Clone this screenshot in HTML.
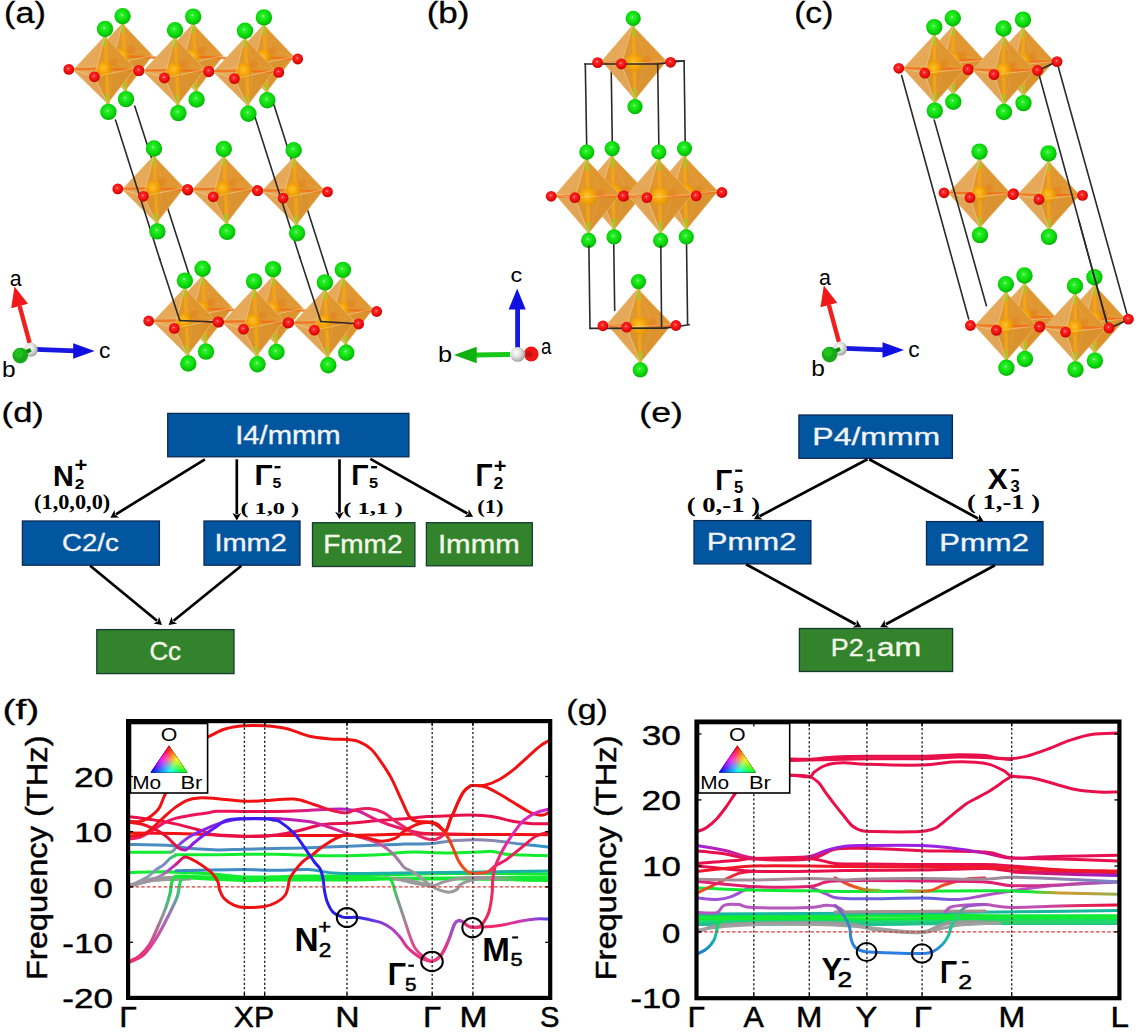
<!DOCTYPE html><html><head><meta charset="utf-8"><style>html,body{margin:0;padding:0;background:#fff;}svg{display:block}</style></head><body>
<svg width="1141" height="1033" viewBox="0 0 1141 1033">
<defs><radialGradient id="gball" cx="0.45" cy="0.42" r="0.65"><stop offset="0" stop-color="#c8ffc8"/><stop offset="0.12" stop-color="#30f030"/><stop offset="0.55" stop-color="#0cdc0c"/><stop offset="1" stop-color="#05a505"/></radialGradient><radialGradient id="rball" cx="0.45" cy="0.42" r="0.65"><stop offset="0" stop-color="#ffd8d8"/><stop offset="0.15" stop-color="#ff3030"/><stop offset="0.6" stop-color="#ee0c0c"/><stop offset="1" stop-color="#b00000"/></radialGradient><radialGradient id="oball" cx="0.45" cy="0.45" r="0.6"><stop offset="0" stop-color="#ffc830"/><stop offset="0.5" stop-color="#f8a808"/><stop offset="1" stop-color="#e09000"/></radialGradient><radialGradient id="wball" cx="0.4" cy="0.38" r="0.7"><stop offset="0" stop-color="#ffffff"/><stop offset="0.5" stop-color="#dcdcdc"/><stop offset="1" stop-color="#909090"/></radialGradient><linearGradient id="g1" gradientUnits="userSpaceOnUse" x1="176.0" y1="0.0" x2="548.0" y2="0.0"><stop offset="0.000" stop-color="#3d8ac4"/><stop offset="0.333" stop-color="#3d8ac4"/><stop offset="0.441" stop-color="#18b0a8"/><stop offset="1.000" stop-color="#18b0a8"/></linearGradient><linearGradient id="g2" gradientUnits="userSpaceOnUse" x1="405.0" y1="0.0" x2="548.0" y2="0.0"><stop offset="0.000" stop-color="#9a9a9a"/><stop offset="0.524" stop-color="#9a9a9a"/><stop offset="0.804" stop-color="#12ec30"/><stop offset="1.000" stop-color="#12ec30"/></linearGradient><linearGradient id="g3" gradientUnits="userSpaceOnUse" x1="130.0" y1="0.0" x2="548.0" y2="0.0"><stop offset="0.000" stop-color="#4a8cc0"/><stop offset="0.694" stop-color="#4a8cc0"/><stop offset="0.778" stop-color="#8a88b0"/><stop offset="0.873" stop-color="#8a88b0"/><stop offset="0.957" stop-color="#3a90c4"/><stop offset="1.000" stop-color="#2a98c8"/></linearGradient><linearGradient id="g4" gradientUnits="userSpaceOnUse" x1="130.0" y1="0.0" x2="548.0" y2="0.0"><stop offset="0.000" stop-color="#9a9a9a"/><stop offset="0.048" stop-color="#8a9ab0"/><stop offset="0.084" stop-color="#7a8ad0"/><stop offset="0.115" stop-color="#12ec30"/><stop offset="1.000" stop-color="#12ec30"/></linearGradient><linearGradient id="g5" gradientUnits="userSpaceOnUse" x1="130.0" y1="0.0" x2="473.0" y2="0.0"><stop offset="0.000" stop-color="#f0186a"/><stop offset="0.437" stop-color="#e8104a"/><stop offset="0.554" stop-color="#d020a0"/><stop offset="0.641" stop-color="#b020d0"/><stop offset="0.700" stop-color="#e02080"/><stop offset="1.000" stop-color="#f01212"/></linearGradient><linearGradient id="g6" gradientUnits="userSpaceOnUse" x1="130.0" y1="0.0" x2="548.0" y2="0.0"><stop offset="0.000" stop-color="#f01212"/><stop offset="0.407" stop-color="#f01212"/><stop offset="0.502" stop-color="#e81850"/><stop offset="0.646" stop-color="#e8286a"/><stop offset="0.742" stop-color="#e8286a"/><stop offset="0.766" stop-color="#f01212"/><stop offset="1.000" stop-color="#f01212"/></linearGradient><linearGradient id="g7" gradientUnits="userSpaceOnUse" x1="130.0" y1="0.0" x2="548.0" y2="0.0"><stop offset="0.000" stop-color="#12ec30"/><stop offset="0.086" stop-color="#12ec30"/><stop offset="0.105" stop-color="#8090b0"/><stop offset="0.124" stop-color="#8a40e0"/><stop offset="0.167" stop-color="#8a20e8"/><stop offset="0.311" stop-color="#8a20e0"/><stop offset="0.407" stop-color="#c020b0"/><stop offset="0.526" stop-color="#e02a80"/><stop offset="0.610" stop-color="#c060a0"/><stop offset="0.646" stop-color="#a080a8"/><stop offset="0.682" stop-color="#9a9a9a"/><stop offset="0.873" stop-color="#9a9a9a"/><stop offset="0.933" stop-color="#12ec30"/><stop offset="1.000" stop-color="#12ec30"/></linearGradient><linearGradient id="g8" gradientUnits="userSpaceOnUse" x1="130.0" y1="0.0" x2="548.0" y2="0.0"><stop offset="0.000" stop-color="#9a9a9a"/><stop offset="0.072" stop-color="#a08aa8"/><stop offset="0.100" stop-color="#c030c0"/><stop offset="0.129" stop-color="#e01050"/><stop offset="0.148" stop-color="#f01212"/><stop offset="0.742" stop-color="#f01212"/><stop offset="0.761" stop-color="#f03a18"/><stop offset="0.813" stop-color="#f05418"/><stop offset="0.856" stop-color="#f04030"/><stop offset="0.885" stop-color="#e8206a"/><stop offset="1.000" stop-color="#f01830"/></linearGradient><linearGradient id="g9" gradientUnits="userSpaceOnUse" x1="130.0" y1="0.0" x2="548.0" y2="0.0"><stop offset="0.000" stop-color="#f01212"/><stop offset="0.110" stop-color="#e81040"/><stop offset="0.134" stop-color="#a020d0"/><stop offset="0.167" stop-color="#7a20f0"/><stop offset="0.254" stop-color="#3a1ef0"/><stop offset="0.478" stop-color="#2a1ee8"/><stop offset="0.538" stop-color="#2a1ee8"/><stop offset="0.586" stop-color="#6a3ae0"/><stop offset="0.634" stop-color="#b040c0"/><stop offset="0.670" stop-color="#e83080"/><stop offset="0.742" stop-color="#f02a78"/><stop offset="0.770" stop-color="#a048c8"/><stop offset="0.794" stop-color="#e02a7a"/><stop offset="0.833" stop-color="#f0205a"/><stop offset="0.866" stop-color="#f02858"/><stop offset="0.897" stop-color="#e828a0"/><stop offset="0.957" stop-color="#d828c0"/><stop offset="1.000" stop-color="#c828d0"/></linearGradient><linearGradient id="g10" gradientUnits="userSpaceOnUse" x1="350.0" y1="0.0" x2="548.0" y2="0.0"><stop offset="0.000" stop-color="#12ec30"/><stop offset="0.212" stop-color="#12ec30"/><stop offset="0.242" stop-color="#70a080"/><stop offset="0.273" stop-color="#a08898"/><stop offset="0.313" stop-color="#e04a90"/><stop offset="0.480" stop-color="#f0307a"/><stop offset="0.515" stop-color="#a050c8"/><stop offset="0.556" stop-color="#9a50d0"/><stop offset="0.586" stop-color="#e83070"/><stop offset="0.758" stop-color="#f02868"/><stop offset="0.884" stop-color="#c040c0"/><stop offset="1.000" stop-color="#5a40e8"/></linearGradient><linearGradient id="g11" gradientUnits="userSpaceOnUse" x1="0.0" y1="876.0" x2="0.0" y2="962.0"><stop offset="0.000" stop-color="#12ec30"/><stop offset="0.186" stop-color="#20d060"/><stop offset="0.453" stop-color="#909898"/><stop offset="0.744" stop-color="#d04a8a"/><stop offset="1.000" stop-color="#f02a70"/></linearGradient><linearGradient id="g12" gradientUnits="userSpaceOnUse" x1="0.0" y1="877.0" x2="0.0" y2="962.0"><stop offset="0.000" stop-color="#12ec30"/><stop offset="0.176" stop-color="#40c080"/><stop offset="0.447" stop-color="#a070c0"/><stop offset="0.741" stop-color="#d04aa0"/><stop offset="1.000" stop-color="#f02a70"/></linearGradient><linearGradient id="tri13r" gradientUnits="userSpaceOnUse" x1="169.00" y1="745.40" x2="169.00" y2="772.40"><stop offset="0" stop-color="#ff0000"/><stop offset="0.5" stop-color="#ff0000"/><stop offset="1" stop-color="#000"/></linearGradient><linearGradient id="tri13b" gradientUnits="userSpaceOnUse" x1="150.60" y1="772.40" x2="175.73" y2="755.27"><stop offset="0" stop-color="#0000ff"/><stop offset="0.5" stop-color="#0000ff"/><stop offset="1" stop-color="#000"/></linearGradient><linearGradient id="tri13g" gradientUnits="userSpaceOnUse" x1="187.40" y1="772.40" x2="162.27" y2="755.27"><stop offset="0" stop-color="#00ff00"/><stop offset="0.5" stop-color="#00ff00"/><stop offset="1" stop-color="#000"/></linearGradient><linearGradient id="g14" gradientUnits="userSpaceOnUse" x1="698.0" y1="0.0" x2="1117.0" y2="0.0"><stop offset="0.000" stop-color="#9a9a9a"/><stop offset="0.661" stop-color="#9a9a9a"/><stop offset="0.721" stop-color="#30d060"/><stop offset="1.000" stop-color="#20d870"/></linearGradient><linearGradient id="g15" gradientUnits="userSpaceOnUse" x1="945.0" y1="0.0" x2="1117.0" y2="0.0"><stop offset="0.000" stop-color="#b458c0"/><stop offset="0.552" stop-color="#c050b0"/><stop offset="0.785" stop-color="#e02a60"/><stop offset="1.000" stop-color="#e81040"/></linearGradient><linearGradient id="g16" gradientUnits="userSpaceOnUse" x1="809.0" y1="0.0" x2="1117.0" y2="0.0"><stop offset="0.000" stop-color="#c040c0"/><stop offset="0.133" stop-color="#7060e0"/><stop offset="0.393" stop-color="#6060e0"/><stop offset="0.555" stop-color="#b050c8"/><stop offset="1.000" stop-color="#c060c0"/></linearGradient><linearGradient id="g17" gradientUnits="userSpaceOnUse" x1="698.0" y1="0.0" x2="1117.0" y2="0.0"><stop offset="0.000" stop-color="#10ea34"/><stop offset="0.792" stop-color="#10ea34"/><stop offset="0.864" stop-color="#d09a30"/><stop offset="0.936" stop-color="#b8a040"/><stop offset="1.000" stop-color="#98b048"/></linearGradient><linearGradient id="g18" gradientUnits="userSpaceOnUse" x1="835.0" y1="0.0" x2="880.0" y2="0.0"><stop offset="0.000" stop-color="#e84040"/><stop offset="0.444" stop-color="#f05418"/><stop offset="1.000" stop-color="#70d030"/></linearGradient><linearGradient id="g19" gradientUnits="userSpaceOnUse" x1="905.0" y1="0.0" x2="985.0" y2="0.0"><stop offset="0.000" stop-color="#60d030"/><stop offset="0.312" stop-color="#f05418"/><stop offset="1.000" stop-color="#e83050"/></linearGradient><linearGradient id="g20" gradientUnits="userSpaceOnUse" x1="698.0" y1="0.0" x2="753.0" y2="0.0"><stop offset="0.000" stop-color="#f05418"/><stop offset="1.000" stop-color="#e8104a"/></linearGradient><linearGradient id="g21" gradientUnits="userSpaceOnUse" x1="698.0" y1="0.0" x2="1117.0" y2="0.0"><stop offset="0.000" stop-color="#e02070"/><stop offset="0.721" stop-color="#e02070"/><stop offset="1.000" stop-color="#a060c0"/></linearGradient><linearGradient id="g22" gradientUnits="userSpaceOnUse" x1="698.0" y1="0.0" x2="1117.0" y2="0.0"><stop offset="0.000" stop-color="#a88c98"/><stop offset="0.721" stop-color="#a08898"/><stop offset="1.000" stop-color="#7a80c8"/></linearGradient><linearGradient id="g23" gradientUnits="userSpaceOnUse" x1="698.0" y1="0.0" x2="1117.0" y2="0.0"><stop offset="0.000" stop-color="#a020e0"/><stop offset="0.100" stop-color="#d02090"/><stop offset="0.148" stop-color="#e8104a"/><stop offset="0.243" stop-color="#e8104a"/><stop offset="0.303" stop-color="#a020e0"/><stop offset="0.625" stop-color="#9a20e0"/><stop offset="0.721" stop-color="#e01070"/><stop offset="1.000" stop-color="#e8104a"/></linearGradient><linearGradient id="g24" gradientUnits="userSpaceOnUse" x1="1011.0" y1="0.0" x2="1117.0" y2="0.0"><stop offset="0.000" stop-color="#e8104a"/><stop offset="1.000" stop-color="#9020d0"/></linearGradient><linearGradient id="g25" gradientUnits="userSpaceOnUse" x1="0.0" y1="919.0" x2="0.0" y2="953.0"><stop offset="0.000" stop-color="#10ea34"/><stop offset="0.471" stop-color="#18c0a0"/><stop offset="1.000" stop-color="#1a80d0"/></linearGradient><linearGradient id="g26" gradientUnits="userSpaceOnUse" x1="835.0" y1="0.0" x2="985.0" y2="0.0"><stop offset="0.000" stop-color="#a050c8"/><stop offset="0.073" stop-color="#2a90c0"/><stop offset="0.133" stop-color="#2a80e0"/><stop offset="0.667" stop-color="#2a80e0"/><stop offset="0.753" stop-color="#18c0a0"/><stop offset="0.813" stop-color="#30d070"/><stop offset="0.887" stop-color="#a050c8"/><stop offset="1.000" stop-color="#a050c8"/></linearGradient><linearGradient id="tri27r" gradientUnits="userSpaceOnUse" x1="737.40" y1="745.40" x2="737.40" y2="772.40"><stop offset="0" stop-color="#ff0000"/><stop offset="0.5" stop-color="#ff0000"/><stop offset="1" stop-color="#000"/></linearGradient><linearGradient id="tri27b" gradientUnits="userSpaceOnUse" x1="719.00" y1="772.40" x2="744.13" y2="755.27"><stop offset="0" stop-color="#0000ff"/><stop offset="0.5" stop-color="#0000ff"/><stop offset="1" stop-color="#000"/></linearGradient><linearGradient id="tri27g" gradientUnits="userSpaceOnUse" x1="755.80" y1="772.40" x2="730.67" y2="755.27"><stop offset="0" stop-color="#00ff00"/><stop offset="0.5" stop-color="#00ff00"/><stop offset="1" stop-color="#000"/></linearGradient></defs>
<rect width="1141" height="1033" fill="#fff"/>
<g><polygon points="122.3,23.6 152.5,55.5 125.1,90.8 90.9,57.2" fill="#e8aa58" opacity="0.95"/><polyline points="90.9,57.2 131.7,49.5 152.5,55.5" fill="none" stroke="#f4cc90" stroke-width="0.8"/><line x1="122.3" y1="23.6" x2="131.7" y2="49.5" stroke="#f4cc90" stroke-width="0.8"/><line x1="125.1" y1="90.8" x2="131.7" y2="49.5" stroke="#f4cc90" stroke-width="0.8"/><line x1="121.7" y1="56.0" x2="131.4" y2="49.8" stroke="#f08030" stroke-width="2.2" opacity="0.8"/><circle cx="131.4" cy="49.8" r="4.2" fill="#f07a30" opacity="0.7"/><polygon points="122.3,23.6 90.9,57.2 112.0,64.0" fill="#e2a654" opacity="0.55"/><polygon points="122.3,23.6 112.0,64.0 152.5,55.5" fill="#dc8c1a" opacity="0.68"/><polygon points="125.1,90.8 90.9,57.2 112.0,64.0" fill="#dc9e4c" opacity="0.55"/><polygon points="125.1,90.8 112.0,64.0 152.5,55.5" fill="#d48618" opacity="0.68"/><line x1="121.7" y1="56.0" x2="86.4" y2="56.6" stroke="#f2701a" stroke-width="2.4" opacity="0.85"/><line x1="121.7" y1="56.0" x2="156.4" y2="57.8" stroke="#f2701a" stroke-width="2.4" opacity="0.85"/><line x1="121.7" y1="56.0" x2="112.0" y2="64.0" stroke="#f2701a" stroke-width="2.4" opacity="0.85"/><line x1="122.6" y1="16.2" x2="126.0" y2="99.1" stroke="#f6a612" stroke-width="3.4" opacity="0.85"/><line x1="122.6" y1="16.2" x2="122.2" y2="32.9" stroke="#9ccc28" stroke-width="3.2" opacity="0.85"/><line x1="126.0" y1="99.1" x2="124.2" y2="81.0" stroke="#9ccc28" stroke-width="3.2" opacity="0.85"/><circle cx="121.7" cy="56.0" r="7.5" fill="url(#oball)" opacity="0.9"/><polyline points="122.3,23.6 112.0,64.0 125.1,90.8" fill="none" stroke="#f6dcaa" stroke-width="0.9" opacity="0.55"/><polyline points="90.9,57.2 112.0,64.0 152.5,55.5" fill="none" stroke="#f6dcaa" stroke-width="0.9" opacity="0.55"/><polygon points="122.3,23.6 152.5,55.5 125.1,90.8 90.9,57.2" fill="none" stroke="#e8b468" stroke-width="0.8"/></g>
<circle cx="122.6" cy="16.2" r="8.2" fill="url(#gball)"/>
<circle cx="126.0" cy="99.1" r="8.2" fill="url(#gball)"/>
<g><polygon points="192.9,24.0 223.1,55.9 195.7,91.2 161.5,57.6" fill="#e8aa58" opacity="0.95"/><polyline points="161.5,57.6 202.3,49.9 223.1,55.9" fill="none" stroke="#f4cc90" stroke-width="0.8"/><line x1="192.9" y1="24.0" x2="202.3" y2="49.9" stroke="#f4cc90" stroke-width="0.8"/><line x1="195.7" y1="91.2" x2="202.3" y2="49.9" stroke="#f4cc90" stroke-width="0.8"/><line x1="192.3" y1="56.4" x2="202.0" y2="50.2" stroke="#f08030" stroke-width="2.2" opacity="0.8"/><circle cx="202.0" cy="50.2" r="4.2" fill="#f07a30" opacity="0.7"/><polygon points="192.9,24.0 161.5,57.6 182.6,64.4" fill="#e2a654" opacity="0.55"/><polygon points="192.9,24.0 182.6,64.4 223.1,55.9" fill="#dc8c1a" opacity="0.68"/><polygon points="195.7,91.2 161.5,57.6 182.6,64.4" fill="#dc9e4c" opacity="0.55"/><polygon points="195.7,91.2 182.6,64.4 223.1,55.9" fill="#d48618" opacity="0.68"/><line x1="192.3" y1="56.4" x2="157.0" y2="57.0" stroke="#f2701a" stroke-width="2.4" opacity="0.85"/><line x1="192.3" y1="56.4" x2="227.0" y2="58.2" stroke="#f2701a" stroke-width="2.4" opacity="0.85"/><line x1="192.3" y1="56.4" x2="182.6" y2="64.4" stroke="#f2701a" stroke-width="2.4" opacity="0.85"/><line x1="193.2" y1="16.6" x2="196.6" y2="99.5" stroke="#f6a612" stroke-width="3.4" opacity="0.85"/><line x1="193.2" y1="16.6" x2="192.8" y2="33.3" stroke="#9ccc28" stroke-width="3.2" opacity="0.85"/><line x1="196.6" y1="99.5" x2="194.8" y2="81.4" stroke="#9ccc28" stroke-width="3.2" opacity="0.85"/><circle cx="192.3" cy="56.4" r="7.5" fill="url(#oball)" opacity="0.9"/><polyline points="192.9,24.0 182.6,64.4 195.7,91.2" fill="none" stroke="#f6dcaa" stroke-width="0.9" opacity="0.55"/><polyline points="161.5,57.6 182.6,64.4 223.1,55.9" fill="none" stroke="#f6dcaa" stroke-width="0.9" opacity="0.55"/><polygon points="192.9,24.0 223.1,55.9 195.7,91.2 161.5,57.6" fill="none" stroke="#e8b468" stroke-width="0.8"/></g>
<circle cx="193.2" cy="16.6" r="8.2" fill="url(#gball)"/>
<circle cx="196.6" cy="99.5" r="8.2" fill="url(#gball)"/>
<g><polygon points="263.6,24.8 293.8,56.7 266.4,92.0 232.2,58.4" fill="#e8aa58" opacity="0.95"/><polyline points="232.2,58.4 273.0,50.7 293.8,56.7" fill="none" stroke="#f4cc90" stroke-width="0.8"/><line x1="263.6" y1="24.8" x2="273.0" y2="50.7" stroke="#f4cc90" stroke-width="0.8"/><line x1="266.4" y1="92.0" x2="273.0" y2="50.7" stroke="#f4cc90" stroke-width="0.8"/><line x1="263.0" y1="57.2" x2="272.7" y2="51.0" stroke="#f08030" stroke-width="2.2" opacity="0.8"/><circle cx="272.7" cy="51.0" r="4.2" fill="#f07a30" opacity="0.7"/><polygon points="263.6,24.8 232.2,58.4 253.3,65.2" fill="#e2a654" opacity="0.55"/><polygon points="263.6,24.8 253.3,65.2 293.8,56.7" fill="#dc8c1a" opacity="0.68"/><polygon points="266.4,92.0 232.2,58.4 253.3,65.2" fill="#dc9e4c" opacity="0.55"/><polygon points="266.4,92.0 253.3,65.2 293.8,56.7" fill="#d48618" opacity="0.68"/><line x1="263.0" y1="57.2" x2="227.7" y2="57.8" stroke="#f2701a" stroke-width="2.4" opacity="0.85"/><line x1="263.0" y1="57.2" x2="297.7" y2="59.0" stroke="#f2701a" stroke-width="2.4" opacity="0.85"/><line x1="263.0" y1="57.2" x2="253.3" y2="65.2" stroke="#f2701a" stroke-width="2.4" opacity="0.85"/><line x1="263.9" y1="17.4" x2="267.3" y2="100.3" stroke="#f6a612" stroke-width="3.4" opacity="0.85"/><line x1="263.9" y1="17.4" x2="263.5" y2="34.1" stroke="#9ccc28" stroke-width="3.2" opacity="0.85"/><line x1="267.3" y1="100.3" x2="265.5" y2="82.2" stroke="#9ccc28" stroke-width="3.2" opacity="0.85"/><circle cx="263.0" cy="57.2" r="7.5" fill="url(#oball)" opacity="0.9"/><polyline points="263.6,24.8 253.3,65.2 266.4,92.0" fill="none" stroke="#f6dcaa" stroke-width="0.9" opacity="0.55"/><polyline points="232.2,58.4 253.3,65.2 293.8,56.7" fill="none" stroke="#f6dcaa" stroke-width="0.9" opacity="0.55"/><polygon points="263.6,24.8 293.8,56.7 266.4,92.0 232.2,58.4" fill="none" stroke="#e8b468" stroke-width="0.8"/></g>
<circle cx="263.9" cy="17.4" r="8.2" fill="url(#gball)"/>
<circle cx="267.3" cy="100.3" r="8.2" fill="url(#gball)"/>
<circle cx="297.7" cy="59.0" r="5.4" fill="url(#rball)"/>
<g><polygon points="104.7,36.4 134.9,68.3 107.5,103.6 73.3,70.0" fill="#e8aa58" opacity="0.95"/><polyline points="73.3,70.0 114.1,62.3 134.9,68.3" fill="none" stroke="#f4cc90" stroke-width="0.8"/><line x1="104.7" y1="36.4" x2="114.1" y2="62.3" stroke="#f4cc90" stroke-width="0.8"/><line x1="107.5" y1="103.6" x2="114.1" y2="62.3" stroke="#f4cc90" stroke-width="0.8"/><line x1="104.1" y1="68.8" x2="113.8" y2="62.6" stroke="#f08030" stroke-width="2.2" opacity="0.8"/><circle cx="113.8" cy="62.6" r="4.2" fill="#f07a30" opacity="0.7"/><polygon points="104.7,36.4 73.3,70.0 94.4,76.8" fill="#e2a654" opacity="0.55"/><polygon points="104.7,36.4 94.4,76.8 134.9,68.3" fill="#dc8c1a" opacity="0.68"/><polygon points="107.5,103.6 73.3,70.0 94.4,76.8" fill="#dc9e4c" opacity="0.55"/><polygon points="107.5,103.6 94.4,76.8 134.9,68.3" fill="#d48618" opacity="0.68"/><line x1="104.1" y1="68.8" x2="68.8" y2="69.4" stroke="#f2701a" stroke-width="2.4" opacity="0.85"/><line x1="104.1" y1="68.8" x2="138.8" y2="70.6" stroke="#f2701a" stroke-width="2.4" opacity="0.85"/><line x1="104.1" y1="68.8" x2="94.4" y2="76.8" stroke="#f2701a" stroke-width="2.4" opacity="0.85"/><line x1="105.0" y1="29.0" x2="108.4" y2="111.9" stroke="#f6a612" stroke-width="3.4" opacity="0.85"/><line x1="105.0" y1="29.0" x2="104.6" y2="45.7" stroke="#9ccc28" stroke-width="3.2" opacity="0.85"/><line x1="108.4" y1="111.9" x2="106.6" y2="93.8" stroke="#9ccc28" stroke-width="3.2" opacity="0.85"/><circle cx="104.1" cy="68.8" r="7.5" fill="url(#oball)" opacity="0.9"/><polyline points="104.7,36.4 94.4,76.8 107.5,103.6" fill="none" stroke="#f6dcaa" stroke-width="0.9" opacity="0.55"/><polyline points="73.3,70.0 94.4,76.8 134.9,68.3" fill="none" stroke="#f6dcaa" stroke-width="0.9" opacity="0.55"/><polygon points="104.7,36.4 134.9,68.3 107.5,103.6 73.3,70.0" fill="none" stroke="#e8b468" stroke-width="0.8"/></g>
<circle cx="105.0" cy="29.0" r="8.2" fill="url(#gball)"/>
<circle cx="108.4" cy="111.9" r="8.2" fill="url(#gball)"/>
<circle cx="68.8" cy="69.4" r="5.4" fill="url(#rball)"/>
<circle cx="94.4" cy="76.8" r="5.4" fill="url(#rball)"/>
<circle cx="138.8" cy="70.6" r="5.4" fill="url(#rball)"/>
<g><polygon points="174.7,37.6 204.9,69.5 177.5,104.8 143.3,71.2" fill="#e8aa58" opacity="0.95"/><polyline points="143.3,71.2 184.1,63.5 204.9,69.5" fill="none" stroke="#f4cc90" stroke-width="0.8"/><line x1="174.7" y1="37.6" x2="184.1" y2="63.5" stroke="#f4cc90" stroke-width="0.8"/><line x1="177.5" y1="104.8" x2="184.1" y2="63.5" stroke="#f4cc90" stroke-width="0.8"/><line x1="174.1" y1="70.0" x2="183.8" y2="63.8" stroke="#f08030" stroke-width="2.2" opacity="0.8"/><circle cx="183.8" cy="63.8" r="4.2" fill="#f07a30" opacity="0.7"/><polygon points="174.7,37.6 143.3,71.2 164.4,78.0" fill="#e2a654" opacity="0.55"/><polygon points="174.7,37.6 164.4,78.0 204.9,69.5" fill="#dc8c1a" opacity="0.68"/><polygon points="177.5,104.8 143.3,71.2 164.4,78.0" fill="#dc9e4c" opacity="0.55"/><polygon points="177.5,104.8 164.4,78.0 204.9,69.5" fill="#d48618" opacity="0.68"/><line x1="174.1" y1="70.0" x2="138.8" y2="70.6" stroke="#f2701a" stroke-width="2.4" opacity="0.85"/><line x1="174.1" y1="70.0" x2="208.8" y2="71.8" stroke="#f2701a" stroke-width="2.4" opacity="0.85"/><line x1="174.1" y1="70.0" x2="164.4" y2="78.0" stroke="#f2701a" stroke-width="2.4" opacity="0.85"/><line x1="175.0" y1="30.2" x2="178.4" y2="113.1" stroke="#f6a612" stroke-width="3.4" opacity="0.85"/><line x1="175.0" y1="30.2" x2="174.6" y2="46.9" stroke="#9ccc28" stroke-width="3.2" opacity="0.85"/><line x1="178.4" y1="113.1" x2="176.6" y2="95.0" stroke="#9ccc28" stroke-width="3.2" opacity="0.85"/><circle cx="174.1" cy="70.0" r="7.5" fill="url(#oball)" opacity="0.9"/><polyline points="174.7,37.6 164.4,78.0 177.5,104.8" fill="none" stroke="#f6dcaa" stroke-width="0.9" opacity="0.55"/><polyline points="143.3,71.2 164.4,78.0 204.9,69.5" fill="none" stroke="#f6dcaa" stroke-width="0.9" opacity="0.55"/><polygon points="174.7,37.6 204.9,69.5 177.5,104.8 143.3,71.2" fill="none" stroke="#e8b468" stroke-width="0.8"/></g>
<circle cx="175.0" cy="30.2" r="8.2" fill="url(#gball)"/>
<circle cx="178.4" cy="113.1" r="8.2" fill="url(#gball)"/>
<circle cx="138.8" cy="70.6" r="5.4" fill="url(#rball)"/>
<circle cx="164.4" cy="78.0" r="5.4" fill="url(#rball)"/>
<circle cx="208.8" cy="71.8" r="5.4" fill="url(#rball)"/>
<g><polygon points="244.7,38.2 274.9,70.1 247.5,105.4 213.3,71.8" fill="#e8aa58" opacity="0.95"/><polyline points="213.3,71.8 254.1,64.1 274.9,70.1" fill="none" stroke="#f4cc90" stroke-width="0.8"/><line x1="244.7" y1="38.2" x2="254.1" y2="64.1" stroke="#f4cc90" stroke-width="0.8"/><line x1="247.5" y1="105.4" x2="254.1" y2="64.1" stroke="#f4cc90" stroke-width="0.8"/><line x1="244.1" y1="70.6" x2="253.8" y2="64.4" stroke="#f08030" stroke-width="2.2" opacity="0.8"/><circle cx="253.8" cy="64.4" r="4.2" fill="#f07a30" opacity="0.7"/><polygon points="244.7,38.2 213.3,71.8 234.4,78.6" fill="#e2a654" opacity="0.55"/><polygon points="244.7,38.2 234.4,78.6 274.9,70.1" fill="#dc8c1a" opacity="0.68"/><polygon points="247.5,105.4 213.3,71.8 234.4,78.6" fill="#dc9e4c" opacity="0.55"/><polygon points="247.5,105.4 234.4,78.6 274.9,70.1" fill="#d48618" opacity="0.68"/><line x1="244.1" y1="70.6" x2="208.8" y2="71.2" stroke="#f2701a" stroke-width="2.4" opacity="0.85"/><line x1="244.1" y1="70.6" x2="278.8" y2="72.4" stroke="#f2701a" stroke-width="2.4" opacity="0.85"/><line x1="244.1" y1="70.6" x2="234.4" y2="78.6" stroke="#f2701a" stroke-width="2.4" opacity="0.85"/><line x1="245.0" y1="30.8" x2="248.4" y2="113.7" stroke="#f6a612" stroke-width="3.4" opacity="0.85"/><line x1="245.0" y1="30.8" x2="244.6" y2="47.5" stroke="#9ccc28" stroke-width="3.2" opacity="0.85"/><line x1="248.4" y1="113.7" x2="246.6" y2="95.6" stroke="#9ccc28" stroke-width="3.2" opacity="0.85"/><circle cx="244.1" cy="70.6" r="7.5" fill="url(#oball)" opacity="0.9"/><polyline points="244.7,38.2 234.4,78.6 247.5,105.4" fill="none" stroke="#f6dcaa" stroke-width="0.9" opacity="0.55"/><polyline points="213.3,71.8 234.4,78.6 274.9,70.1" fill="none" stroke="#f6dcaa" stroke-width="0.9" opacity="0.55"/><polygon points="244.7,38.2 274.9,70.1 247.5,105.4 213.3,71.8" fill="none" stroke="#e8b468" stroke-width="0.8"/></g>
<circle cx="245.0" cy="30.8" r="8.2" fill="url(#gball)"/>
<circle cx="248.4" cy="113.7" r="8.2" fill="url(#gball)"/>
<circle cx="208.8" cy="71.2" r="5.4" fill="url(#rball)"/>
<circle cx="234.4" cy="78.6" r="5.4" fill="url(#rball)"/>
<circle cx="278.8" cy="72.4" r="5.4" fill="url(#rball)"/>
<g><polygon points="202.3,276.1 232.5,308.0 205.1,343.3 170.9,309.7" fill="#e8aa58" opacity="0.95"/><polyline points="170.9,309.7 211.7,302.0 232.5,308.0" fill="none" stroke="#f4cc90" stroke-width="0.8"/><line x1="202.3" y1="276.1" x2="211.7" y2="302.0" stroke="#f4cc90" stroke-width="0.8"/><line x1="205.1" y1="343.3" x2="211.7" y2="302.0" stroke="#f4cc90" stroke-width="0.8"/><line x1="201.7" y1="308.5" x2="211.4" y2="302.3" stroke="#f08030" stroke-width="2.2" opacity="0.8"/><circle cx="211.4" cy="302.3" r="4.2" fill="#f07a30" opacity="0.7"/><polygon points="202.3,276.1 170.9,309.7 192.0,316.5" fill="#e2a654" opacity="0.55"/><polygon points="202.3,276.1 192.0,316.5 232.5,308.0" fill="#dc8c1a" opacity="0.68"/><polygon points="205.1,343.3 170.9,309.7 192.0,316.5" fill="#dc9e4c" opacity="0.55"/><polygon points="205.1,343.3 192.0,316.5 232.5,308.0" fill="#d48618" opacity="0.68"/><line x1="201.7" y1="308.5" x2="166.4" y2="309.1" stroke="#f2701a" stroke-width="2.4" opacity="0.85"/><line x1="201.7" y1="308.5" x2="236.4" y2="310.3" stroke="#f2701a" stroke-width="2.4" opacity="0.85"/><line x1="201.7" y1="308.5" x2="192.0" y2="316.5" stroke="#f2701a" stroke-width="2.4" opacity="0.85"/><line x1="202.6" y1="268.7" x2="206.0" y2="351.6" stroke="#f6a612" stroke-width="3.4" opacity="0.85"/><line x1="202.6" y1="268.7" x2="202.2" y2="285.4" stroke="#9ccc28" stroke-width="3.2" opacity="0.85"/><line x1="206.0" y1="351.6" x2="204.2" y2="333.5" stroke="#9ccc28" stroke-width="3.2" opacity="0.85"/><circle cx="201.7" cy="308.5" r="7.5" fill="url(#oball)" opacity="0.9"/><polyline points="202.3,276.1 192.0,316.5 205.1,343.3" fill="none" stroke="#f6dcaa" stroke-width="0.9" opacity="0.55"/><polyline points="170.9,309.7 192.0,316.5 232.5,308.0" fill="none" stroke="#f6dcaa" stroke-width="0.9" opacity="0.55"/><polygon points="202.3,276.1 232.5,308.0 205.1,343.3 170.9,309.7" fill="none" stroke="#e8b468" stroke-width="0.8"/></g>
<circle cx="202.6" cy="268.7" r="8.2" fill="url(#gball)"/>
<circle cx="206.0" cy="351.6" r="8.2" fill="url(#gball)"/>
<g><polygon points="272.8,276.5 303.0,308.4 275.6,343.7 241.4,310.1" fill="#e8aa58" opacity="0.95"/><polyline points="241.4,310.1 282.2,302.4 303.0,308.4" fill="none" stroke="#f4cc90" stroke-width="0.8"/><line x1="272.8" y1="276.5" x2="282.2" y2="302.4" stroke="#f4cc90" stroke-width="0.8"/><line x1="275.6" y1="343.7" x2="282.2" y2="302.4" stroke="#f4cc90" stroke-width="0.8"/><line x1="272.2" y1="308.9" x2="281.9" y2="302.7" stroke="#f08030" stroke-width="2.2" opacity="0.8"/><circle cx="281.9" cy="302.7" r="4.2" fill="#f07a30" opacity="0.7"/><polygon points="272.8,276.5 241.4,310.1 262.5,316.9" fill="#e2a654" opacity="0.55"/><polygon points="272.8,276.5 262.5,316.9 303.0,308.4" fill="#dc8c1a" opacity="0.68"/><polygon points="275.6,343.7 241.4,310.1 262.5,316.9" fill="#dc9e4c" opacity="0.55"/><polygon points="275.6,343.7 262.5,316.9 303.0,308.4" fill="#d48618" opacity="0.68"/><line x1="272.2" y1="308.9" x2="236.9" y2="309.5" stroke="#f2701a" stroke-width="2.4" opacity="0.85"/><line x1="272.2" y1="308.9" x2="306.9" y2="310.7" stroke="#f2701a" stroke-width="2.4" opacity="0.85"/><line x1="272.2" y1="308.9" x2="262.5" y2="316.9" stroke="#f2701a" stroke-width="2.4" opacity="0.85"/><line x1="273.1" y1="269.1" x2="276.5" y2="352.0" stroke="#f6a612" stroke-width="3.4" opacity="0.85"/><line x1="273.1" y1="269.1" x2="272.7" y2="285.8" stroke="#9ccc28" stroke-width="3.2" opacity="0.85"/><line x1="276.5" y1="352.0" x2="274.7" y2="333.9" stroke="#9ccc28" stroke-width="3.2" opacity="0.85"/><circle cx="272.2" cy="308.9" r="7.5" fill="url(#oball)" opacity="0.9"/><polyline points="272.8,276.5 262.5,316.9 275.6,343.7" fill="none" stroke="#f6dcaa" stroke-width="0.9" opacity="0.55"/><polyline points="241.4,310.1 262.5,316.9 303.0,308.4" fill="none" stroke="#f6dcaa" stroke-width="0.9" opacity="0.55"/><polygon points="272.8,276.5 303.0,308.4 275.6,343.7 241.4,310.1" fill="none" stroke="#e8b468" stroke-width="0.8"/></g>
<circle cx="273.1" cy="269.1" r="8.2" fill="url(#gball)"/>
<circle cx="276.5" cy="352.0" r="8.2" fill="url(#gball)"/>
<g><polygon points="342.6,277.3 372.8,309.2 345.4,344.5 311.2,310.9" fill="#e8aa58" opacity="0.95"/><polyline points="311.2,310.9 352.0,303.2 372.8,309.2" fill="none" stroke="#f4cc90" stroke-width="0.8"/><line x1="342.6" y1="277.3" x2="352.0" y2="303.2" stroke="#f4cc90" stroke-width="0.8"/><line x1="345.4" y1="344.5" x2="352.0" y2="303.2" stroke="#f4cc90" stroke-width="0.8"/><line x1="342.0" y1="309.7" x2="351.7" y2="303.5" stroke="#f08030" stroke-width="2.2" opacity="0.8"/><circle cx="351.7" cy="303.5" r="4.2" fill="#f07a30" opacity="0.7"/><polygon points="342.6,277.3 311.2,310.9 332.3,317.7" fill="#e2a654" opacity="0.55"/><polygon points="342.6,277.3 332.3,317.7 372.8,309.2" fill="#dc8c1a" opacity="0.68"/><polygon points="345.4,344.5 311.2,310.9 332.3,317.7" fill="#dc9e4c" opacity="0.55"/><polygon points="345.4,344.5 332.3,317.7 372.8,309.2" fill="#d48618" opacity="0.68"/><line x1="342.0" y1="309.7" x2="306.7" y2="310.3" stroke="#f2701a" stroke-width="2.4" opacity="0.85"/><line x1="342.0" y1="309.7" x2="376.7" y2="311.5" stroke="#f2701a" stroke-width="2.4" opacity="0.85"/><line x1="342.0" y1="309.7" x2="332.3" y2="317.7" stroke="#f2701a" stroke-width="2.4" opacity="0.85"/><line x1="342.9" y1="269.9" x2="346.3" y2="352.8" stroke="#f6a612" stroke-width="3.4" opacity="0.85"/><line x1="342.9" y1="269.9" x2="342.5" y2="286.6" stroke="#9ccc28" stroke-width="3.2" opacity="0.85"/><line x1="346.3" y1="352.8" x2="344.5" y2="334.7" stroke="#9ccc28" stroke-width="3.2" opacity="0.85"/><circle cx="342.0" cy="309.7" r="7.5" fill="url(#oball)" opacity="0.9"/><polyline points="342.6,277.3 332.3,317.7 345.4,344.5" fill="none" stroke="#f6dcaa" stroke-width="0.9" opacity="0.55"/><polyline points="311.2,310.9 332.3,317.7 372.8,309.2" fill="none" stroke="#f6dcaa" stroke-width="0.9" opacity="0.55"/><polygon points="342.6,277.3 372.8,309.2 345.4,344.5 311.2,310.9" fill="none" stroke="#e8b468" stroke-width="0.8"/></g>
<circle cx="342.9" cy="269.9" r="8.2" fill="url(#gball)"/>
<circle cx="346.3" cy="352.8" r="8.2" fill="url(#gball)"/>
<circle cx="376.7" cy="311.5" r="5.4" fill="url(#rball)"/>
<line x1="134.7" y1="106.0" x2="189.3" y2="275.2" stroke="#2a2a2a" stroke-width="1.6" stroke-linecap="round"/>
<line x1="274.0" y1="105.0" x2="328.4" y2="275.2" stroke="#2a2a2a" stroke-width="1.6" stroke-linecap="round"/>
<g><polygon points="153.7,155.9 183.9,187.8 156.5,223.1 122.3,189.5" fill="#e8aa58" opacity="0.95"/><polyline points="122.3,189.5 163.1,181.8 183.9,187.8" fill="none" stroke="#f4cc90" stroke-width="0.8"/><line x1="153.7" y1="155.9" x2="163.1" y2="181.8" stroke="#f4cc90" stroke-width="0.8"/><line x1="156.5" y1="223.1" x2="163.1" y2="181.8" stroke="#f4cc90" stroke-width="0.8"/><line x1="153.1" y1="188.3" x2="162.8" y2="182.1" stroke="#f08030" stroke-width="2.2" opacity="0.8"/><circle cx="162.8" cy="182.1" r="4.2" fill="#f07a30" opacity="0.7"/><polygon points="153.7,155.9 122.3,189.5 143.4,196.3" fill="#e2a654" opacity="0.55"/><polygon points="153.7,155.9 143.4,196.3 183.9,187.8" fill="#dc8c1a" opacity="0.68"/><polygon points="156.5,223.1 122.3,189.5 143.4,196.3" fill="#dc9e4c" opacity="0.55"/><polygon points="156.5,223.1 143.4,196.3 183.9,187.8" fill="#d48618" opacity="0.68"/><line x1="153.1" y1="188.3" x2="117.8" y2="188.9" stroke="#f2701a" stroke-width="2.4" opacity="0.85"/><line x1="153.1" y1="188.3" x2="187.8" y2="190.1" stroke="#f2701a" stroke-width="2.4" opacity="0.85"/><line x1="153.1" y1="188.3" x2="143.4" y2="196.3" stroke="#f2701a" stroke-width="2.4" opacity="0.85"/><line x1="154.0" y1="148.5" x2="157.4" y2="231.4" stroke="#f6a612" stroke-width="3.4" opacity="0.85"/><line x1="154.0" y1="148.5" x2="153.6" y2="165.2" stroke="#9ccc28" stroke-width="3.2" opacity="0.85"/><line x1="157.4" y1="231.4" x2="155.6" y2="213.3" stroke="#9ccc28" stroke-width="3.2" opacity="0.85"/><circle cx="153.1" cy="188.3" r="7.5" fill="url(#oball)" opacity="0.9"/><polyline points="153.7,155.9 143.4,196.3 156.5,223.1" fill="none" stroke="#f6dcaa" stroke-width="0.9" opacity="0.55"/><polyline points="122.3,189.5 143.4,196.3 183.9,187.8" fill="none" stroke="#f6dcaa" stroke-width="0.9" opacity="0.55"/><polygon points="153.7,155.9 183.9,187.8 156.5,223.1 122.3,189.5" fill="none" stroke="#e8b468" stroke-width="0.8"/></g>
<g><polygon points="223.5,156.4 253.7,188.3 226.3,223.6 192.1,190.0" fill="#e8aa58" opacity="0.95"/><polyline points="192.1,190.0 232.9,182.3 253.7,188.3" fill="none" stroke="#f4cc90" stroke-width="0.8"/><line x1="223.5" y1="156.4" x2="232.9" y2="182.3" stroke="#f4cc90" stroke-width="0.8"/><line x1="226.3" y1="223.6" x2="232.9" y2="182.3" stroke="#f4cc90" stroke-width="0.8"/><line x1="222.9" y1="188.8" x2="232.6" y2="182.6" stroke="#f08030" stroke-width="2.2" opacity="0.8"/><circle cx="232.6" cy="182.6" r="4.2" fill="#f07a30" opacity="0.7"/><polygon points="223.5,156.4 192.1,190.0 213.2,196.8" fill="#e2a654" opacity="0.55"/><polygon points="223.5,156.4 213.2,196.8 253.7,188.3" fill="#dc8c1a" opacity="0.68"/><polygon points="226.3,223.6 192.1,190.0 213.2,196.8" fill="#dc9e4c" opacity="0.55"/><polygon points="226.3,223.6 213.2,196.8 253.7,188.3" fill="#d48618" opacity="0.68"/><line x1="222.9" y1="188.8" x2="187.6" y2="189.4" stroke="#f2701a" stroke-width="2.4" opacity="0.85"/><line x1="222.9" y1="188.8" x2="257.6" y2="190.6" stroke="#f2701a" stroke-width="2.4" opacity="0.85"/><line x1="222.9" y1="188.8" x2="213.2" y2="196.8" stroke="#f2701a" stroke-width="2.4" opacity="0.85"/><line x1="223.8" y1="149.0" x2="227.2" y2="231.9" stroke="#f6a612" stroke-width="3.4" opacity="0.85"/><line x1="223.8" y1="149.0" x2="223.4" y2="165.7" stroke="#9ccc28" stroke-width="3.2" opacity="0.85"/><line x1="227.2" y1="231.9" x2="225.4" y2="213.8" stroke="#9ccc28" stroke-width="3.2" opacity="0.85"/><circle cx="222.9" cy="188.8" r="7.5" fill="url(#oball)" opacity="0.9"/><polyline points="223.5,156.4 213.2,196.8 226.3,223.6" fill="none" stroke="#f6dcaa" stroke-width="0.9" opacity="0.55"/><polyline points="192.1,190.0 213.2,196.8 253.7,188.3" fill="none" stroke="#f6dcaa" stroke-width="0.9" opacity="0.55"/><polygon points="223.5,156.4 253.7,188.3 226.3,223.6 192.1,190.0" fill="none" stroke="#e8b468" stroke-width="0.8"/></g>
<g><polygon points="293.4,157.7 323.6,189.6 296.2,224.9 262.0,191.3" fill="#e8aa58" opacity="0.95"/><polyline points="262.0,191.3 302.8,183.6 323.6,189.6" fill="none" stroke="#f4cc90" stroke-width="0.8"/><line x1="293.4" y1="157.7" x2="302.8" y2="183.6" stroke="#f4cc90" stroke-width="0.8"/><line x1="296.2" y1="224.9" x2="302.8" y2="183.6" stroke="#f4cc90" stroke-width="0.8"/><line x1="292.8" y1="190.1" x2="302.5" y2="183.9" stroke="#f08030" stroke-width="2.2" opacity="0.8"/><circle cx="302.5" cy="183.9" r="4.2" fill="#f07a30" opacity="0.7"/><polygon points="293.4,157.7 262.0,191.3 283.1,198.1" fill="#e2a654" opacity="0.55"/><polygon points="293.4,157.7 283.1,198.1 323.6,189.6" fill="#dc8c1a" opacity="0.68"/><polygon points="296.2,224.9 262.0,191.3 283.1,198.1" fill="#dc9e4c" opacity="0.55"/><polygon points="296.2,224.9 283.1,198.1 323.6,189.6" fill="#d48618" opacity="0.68"/><line x1="292.8" y1="190.1" x2="257.5" y2="190.7" stroke="#f2701a" stroke-width="2.4" opacity="0.85"/><line x1="292.8" y1="190.1" x2="327.5" y2="191.9" stroke="#f2701a" stroke-width="2.4" opacity="0.85"/><line x1="292.8" y1="190.1" x2="283.1" y2="198.1" stroke="#f2701a" stroke-width="2.4" opacity="0.85"/><line x1="293.7" y1="150.3" x2="297.1" y2="233.2" stroke="#f6a612" stroke-width="3.4" opacity="0.85"/><line x1="293.7" y1="150.3" x2="293.3" y2="167.0" stroke="#9ccc28" stroke-width="3.2" opacity="0.85"/><line x1="297.1" y1="233.2" x2="295.3" y2="215.1" stroke="#9ccc28" stroke-width="3.2" opacity="0.85"/><circle cx="292.8" cy="190.1" r="7.5" fill="url(#oball)" opacity="0.9"/><polyline points="293.4,157.7 283.1,198.1 296.2,224.9" fill="none" stroke="#f6dcaa" stroke-width="0.9" opacity="0.55"/><polyline points="262.0,191.3 283.1,198.1 323.6,189.6" fill="none" stroke="#f6dcaa" stroke-width="0.9" opacity="0.55"/><polygon points="293.4,157.7 323.6,189.6 296.2,224.9 262.0,191.3" fill="none" stroke="#e8b468" stroke-width="0.8"/></g>
<line x1="115.5" y1="120.0" x2="160.0" y2="260.0" stroke="#2a2a2a" stroke-width="1.6" stroke-linecap="round"/>
<line x1="255.3" y1="118.0" x2="300.0" y2="258.0" stroke="#2a2a2a" stroke-width="1.6" stroke-linecap="round"/>
<circle cx="154.0" cy="148.5" r="8.2" fill="url(#gball)"/>
<circle cx="157.4" cy="231.4" r="8.2" fill="url(#gball)"/>
<circle cx="117.8" cy="188.9" r="5.4" fill="url(#rball)"/>
<circle cx="143.4" cy="196.3" r="5.4" fill="url(#rball)"/>
<circle cx="187.8" cy="190.1" r="5.4" fill="url(#rball)"/>
<circle cx="223.8" cy="149.0" r="8.2" fill="url(#gball)"/>
<circle cx="227.2" cy="231.9" r="8.2" fill="url(#gball)"/>
<circle cx="187.6" cy="189.4" r="5.4" fill="url(#rball)"/>
<circle cx="213.2" cy="196.8" r="5.4" fill="url(#rball)"/>
<circle cx="257.6" cy="190.6" r="5.4" fill="url(#rball)"/>
<circle cx="293.7" cy="150.3" r="8.2" fill="url(#gball)"/>
<circle cx="297.1" cy="233.2" r="8.2" fill="url(#gball)"/>
<circle cx="257.5" cy="190.7" r="5.4" fill="url(#rball)"/>
<circle cx="283.1" cy="198.1" r="5.4" fill="url(#rball)"/>
<circle cx="327.5" cy="191.9" r="5.4" fill="url(#rball)"/>
<g><polygon points="184.6,288.0 214.8,319.9 187.4,355.2 153.2,321.6" fill="#e8aa58" opacity="0.95"/><polyline points="153.2,321.6 194.0,313.9 214.8,319.9" fill="none" stroke="#f4cc90" stroke-width="0.8"/><line x1="184.6" y1="288.0" x2="194.0" y2="313.9" stroke="#f4cc90" stroke-width="0.8"/><line x1="187.4" y1="355.2" x2="194.0" y2="313.9" stroke="#f4cc90" stroke-width="0.8"/><line x1="184.0" y1="320.4" x2="193.7" y2="314.2" stroke="#f08030" stroke-width="2.2" opacity="0.8"/><circle cx="193.7" cy="314.2" r="4.2" fill="#f07a30" opacity="0.7"/><polygon points="184.6,288.0 153.2,321.6 174.3,328.4" fill="#e2a654" opacity="0.55"/><polygon points="184.6,288.0 174.3,328.4 214.8,319.9" fill="#dc8c1a" opacity="0.68"/><polygon points="187.4,355.2 153.2,321.6 174.3,328.4" fill="#dc9e4c" opacity="0.55"/><polygon points="187.4,355.2 174.3,328.4 214.8,319.9" fill="#d48618" opacity="0.68"/><line x1="184.0" y1="320.4" x2="148.7" y2="321.0" stroke="#f2701a" stroke-width="2.4" opacity="0.85"/><line x1="184.0" y1="320.4" x2="218.7" y2="322.2" stroke="#f2701a" stroke-width="2.4" opacity="0.85"/><line x1="184.0" y1="320.4" x2="174.3" y2="328.4" stroke="#f2701a" stroke-width="2.4" opacity="0.85"/><line x1="184.9" y1="280.6" x2="188.3" y2="363.5" stroke="#f6a612" stroke-width="3.4" opacity="0.85"/><line x1="184.9" y1="280.6" x2="184.5" y2="297.3" stroke="#9ccc28" stroke-width="3.2" opacity="0.85"/><line x1="188.3" y1="363.5" x2="186.5" y2="345.4" stroke="#9ccc28" stroke-width="3.2" opacity="0.85"/><circle cx="184.0" cy="320.4" r="7.5" fill="url(#oball)" opacity="0.9"/><polyline points="184.6,288.0 174.3,328.4 187.4,355.2" fill="none" stroke="#f6dcaa" stroke-width="0.9" opacity="0.55"/><polyline points="153.2,321.6 174.3,328.4 214.8,319.9" fill="none" stroke="#f6dcaa" stroke-width="0.9" opacity="0.55"/><polygon points="184.6,288.0 214.8,319.9 187.4,355.2 153.2,321.6" fill="none" stroke="#e8b468" stroke-width="0.8"/></g>
<g><polygon points="253.8,288.8 284.0,320.7 256.6,356.0 222.4,322.4" fill="#e8aa58" opacity="0.95"/><polyline points="222.4,322.4 263.2,314.7 284.0,320.7" fill="none" stroke="#f4cc90" stroke-width="0.8"/><line x1="253.8" y1="288.8" x2="263.2" y2="314.7" stroke="#f4cc90" stroke-width="0.8"/><line x1="256.6" y1="356.0" x2="263.2" y2="314.7" stroke="#f4cc90" stroke-width="0.8"/><line x1="253.2" y1="321.2" x2="262.9" y2="315.0" stroke="#f08030" stroke-width="2.2" opacity="0.8"/><circle cx="262.9" cy="315.0" r="4.2" fill="#f07a30" opacity="0.7"/><polygon points="253.8,288.8 222.4,322.4 243.5,329.2" fill="#e2a654" opacity="0.55"/><polygon points="253.8,288.8 243.5,329.2 284.0,320.7" fill="#dc8c1a" opacity="0.68"/><polygon points="256.6,356.0 222.4,322.4 243.5,329.2" fill="#dc9e4c" opacity="0.55"/><polygon points="256.6,356.0 243.5,329.2 284.0,320.7" fill="#d48618" opacity="0.68"/><line x1="253.2" y1="321.2" x2="217.9" y2="321.8" stroke="#f2701a" stroke-width="2.4" opacity="0.85"/><line x1="253.2" y1="321.2" x2="287.9" y2="323.0" stroke="#f2701a" stroke-width="2.4" opacity="0.85"/><line x1="253.2" y1="321.2" x2="243.5" y2="329.2" stroke="#f2701a" stroke-width="2.4" opacity="0.85"/><line x1="254.1" y1="281.4" x2="257.5" y2="364.3" stroke="#f6a612" stroke-width="3.4" opacity="0.85"/><line x1="254.1" y1="281.4" x2="253.7" y2="298.1" stroke="#9ccc28" stroke-width="3.2" opacity="0.85"/><line x1="257.5" y1="364.3" x2="255.7" y2="346.2" stroke="#9ccc28" stroke-width="3.2" opacity="0.85"/><circle cx="253.2" cy="321.2" r="7.5" fill="url(#oball)" opacity="0.9"/><polyline points="253.8,288.8 243.5,329.2 256.6,356.0" fill="none" stroke="#f6dcaa" stroke-width="0.9" opacity="0.55"/><polyline points="222.4,322.4 243.5,329.2 284.0,320.7" fill="none" stroke="#f6dcaa" stroke-width="0.9" opacity="0.55"/><polygon points="253.8,288.8 284.0,320.7 256.6,356.0 222.4,322.4" fill="none" stroke="#e8b468" stroke-width="0.8"/></g>
<g><polygon points="324.6,289.8 354.8,321.7 327.4,357.0 293.2,323.4" fill="#e8aa58" opacity="0.95"/><polyline points="293.2,323.4 334.0,315.7 354.8,321.7" fill="none" stroke="#f4cc90" stroke-width="0.8"/><line x1="324.6" y1="289.8" x2="334.0" y2="315.7" stroke="#f4cc90" stroke-width="0.8"/><line x1="327.4" y1="357.0" x2="334.0" y2="315.7" stroke="#f4cc90" stroke-width="0.8"/><line x1="324.0" y1="322.2" x2="333.7" y2="316.0" stroke="#f08030" stroke-width="2.2" opacity="0.8"/><circle cx="333.7" cy="316.0" r="4.2" fill="#f07a30" opacity="0.7"/><polygon points="324.6,289.8 293.2,323.4 314.3,330.2" fill="#e2a654" opacity="0.55"/><polygon points="324.6,289.8 314.3,330.2 354.8,321.7" fill="#dc8c1a" opacity="0.68"/><polygon points="327.4,357.0 293.2,323.4 314.3,330.2" fill="#dc9e4c" opacity="0.55"/><polygon points="327.4,357.0 314.3,330.2 354.8,321.7" fill="#d48618" opacity="0.68"/><line x1="324.0" y1="322.2" x2="288.7" y2="322.8" stroke="#f2701a" stroke-width="2.4" opacity="0.85"/><line x1="324.0" y1="322.2" x2="358.7" y2="324.0" stroke="#f2701a" stroke-width="2.4" opacity="0.85"/><line x1="324.0" y1="322.2" x2="314.3" y2="330.2" stroke="#f2701a" stroke-width="2.4" opacity="0.85"/><line x1="324.9" y1="282.4" x2="328.3" y2="365.3" stroke="#f6a612" stroke-width="3.4" opacity="0.85"/><line x1="324.9" y1="282.4" x2="324.5" y2="299.1" stroke="#9ccc28" stroke-width="3.2" opacity="0.85"/><line x1="328.3" y1="365.3" x2="326.5" y2="347.2" stroke="#9ccc28" stroke-width="3.2" opacity="0.85"/><circle cx="324.0" cy="322.2" r="7.5" fill="url(#oball)" opacity="0.9"/><polyline points="324.6,289.8 314.3,330.2 327.4,357.0" fill="none" stroke="#f6dcaa" stroke-width="0.9" opacity="0.55"/><polyline points="293.2,323.4 314.3,330.2 354.8,321.7" fill="none" stroke="#f6dcaa" stroke-width="0.9" opacity="0.55"/><polygon points="324.6,289.8 354.8,321.7 327.4,357.0 293.2,323.4" fill="none" stroke="#e8b468" stroke-width="0.8"/></g>
<line x1="159.5" y1="258.5" x2="179.8" y2="320.5" stroke="#2a2a2a" stroke-width="1.6" stroke-linecap="round"/>
<line x1="179.8" y1="320.5" x2="214.0" y2="322.0" stroke="#2a2a2a" stroke-width="1.3" stroke-linecap="round"/>
<line x1="299.5" y1="256.5" x2="320.8" y2="321.5" stroke="#2a2a2a" stroke-width="1.6" stroke-linecap="round"/>
<line x1="320.8" y1="321.5" x2="354.0" y2="323.5" stroke="#2a2a2a" stroke-width="1.3" stroke-linecap="round"/>
<circle cx="184.9" cy="280.6" r="8.2" fill="url(#gball)"/>
<circle cx="188.3" cy="363.5" r="8.2" fill="url(#gball)"/>
<circle cx="148.7" cy="321.0" r="5.4" fill="url(#rball)"/>
<circle cx="174.3" cy="328.4" r="5.4" fill="url(#rball)"/>
<circle cx="218.7" cy="322.2" r="5.4" fill="url(#rball)"/>
<circle cx="254.1" cy="281.4" r="8.2" fill="url(#gball)"/>
<circle cx="257.5" cy="364.3" r="8.2" fill="url(#gball)"/>
<circle cx="217.9" cy="321.8" r="5.4" fill="url(#rball)"/>
<circle cx="243.5" cy="329.2" r="5.4" fill="url(#rball)"/>
<circle cx="287.9" cy="323.0" r="5.4" fill="url(#rball)"/>
<circle cx="324.9" cy="282.4" r="8.2" fill="url(#gball)"/>
<circle cx="328.3" cy="365.3" r="8.2" fill="url(#gball)"/>
<circle cx="288.7" cy="322.8" r="5.4" fill="url(#rball)"/>
<circle cx="314.3" cy="330.2" r="5.4" fill="url(#rball)"/>
<circle cx="358.7" cy="324.0" r="5.4" fill="url(#rball)"/>
<line x1="29.6" y1="342.8" x2="19.6" y2="306.0" stroke="#f02020" stroke-width="4.4"/>
<polygon points="14.5,286.5 11.2,308.2 28.0,303.8" fill="#f01818"/>
<line x1="36.0" y1="349.3" x2="75.0" y2="350.8" stroke="#1818e0" stroke-width="4.8"/>
<polygon points="94.7,351.0 73.2,343.2 73.2,358.7" fill="#1010e0"/>
<circle cx="30.8" cy="349.8" r="7" fill="url(#wball)"/>
<line x1="30.8" y1="349.8" x2="22.0" y2="354.0" stroke="#0a8a0a" stroke-width="4"/>
<circle cx="20.3" cy="355.6" r="7.8" fill="#18a818"/>
<circle cx="18.8" cy="353.6" r="4.5" fill="#22c822" opacity="0.8"/>
<text x="9.65" y="285.68" font-family='"Liberation Sans", sans-serif' font-size="22.18" fill="#000" font-weight="normal" textLength="11.88" lengthAdjust="spacingAndGlyphs" >a</text>
<text x="98.99" y="358.28" font-family='"Liberation Sans", sans-serif' font-size="22.18" fill="#000" font-weight="normal" textLength="11.38" lengthAdjust="spacingAndGlyphs" >c</text>
<text x="1.91" y="376.88" font-family='"Liberation Sans", sans-serif' font-size="22.18" fill="#000" font-weight="normal" textLength="13.60" lengthAdjust="spacingAndGlyphs" >b</text>
<line x1="611.1" y1="61.0" x2="614.7" y2="310.5" stroke="#2a2a2a" stroke-width="1.6" stroke-linecap="round"/>
<line x1="684.1" y1="60.8" x2="687.6" y2="324.0" stroke="#2a2a2a" stroke-width="1.6" stroke-linecap="round"/>
<line x1="611.0" y1="61.0" x2="684.1" y2="60.8" stroke="#2a2a2a" stroke-width="1.3" stroke-linecap="round"/>
<g><polygon points="632.4,25.6 666.4,61.1 635.0,99.4 601.9,61.1" fill="#e8aa58" opacity="0.95"/><polyline points="601.9,61.1 647.4,59.6 666.4,61.1" fill="none" stroke="#f4cc90" stroke-width="0.8"/><line x1="632.4" y1="25.6" x2="647.4" y2="59.6" stroke="#f4cc90" stroke-width="0.8"/><line x1="635.0" y1="99.4" x2="647.4" y2="59.6" stroke="#f4cc90" stroke-width="0.8"/><line x1="634.4" y1="62.6" x2="647.4" y2="59.6" stroke="#f08030" stroke-width="2.2" opacity="0.8"/><circle cx="647.4" cy="59.6" r="4.2" fill="#f07a30" opacity="0.7"/><polygon points="632.4,25.6 601.9,61.1 621.3,64.0" fill="#e2a654" opacity="0.55"/><polygon points="632.4,25.6 621.3,64.0 666.4,61.1" fill="#dc8c1a" opacity="0.68"/><polygon points="635.0,99.4 601.9,61.1 621.3,64.0" fill="#dc9e4c" opacity="0.55"/><polygon points="635.0,99.4 621.3,64.0 666.4,61.1" fill="#d48618" opacity="0.68"/><line x1="634.4" y1="62.6" x2="597.6" y2="62.6" stroke="#f2701a" stroke-width="2.4" opacity="0.85"/><line x1="634.4" y1="62.6" x2="670.6" y2="62.3" stroke="#f2701a" stroke-width="2.4" opacity="0.85"/><line x1="634.4" y1="62.6" x2="621.3" y2="64.0" stroke="#f2701a" stroke-width="2.4" opacity="0.85"/><line x1="633.2" y1="18.4" x2="635.0" y2="106.7" stroke="#f6a612" stroke-width="3.4" opacity="0.85"/><line x1="633.2" y1="18.4" x2="633.7" y2="37.0" stroke="#9ccc28" stroke-width="3.2" opacity="0.85"/><line x1="635.0" y1="106.7" x2="634.7" y2="88.2" stroke="#9ccc28" stroke-width="3.2" opacity="0.85"/><circle cx="634.4" cy="62.6" r="9.0" fill="url(#oball)" opacity="0.9"/><polyline points="632.4,25.6 621.3,64.0 635.0,99.4" fill="none" stroke="#f6dcaa" stroke-width="0.9" opacity="0.55"/><polyline points="601.9,61.1 621.3,64.0 666.4,61.1" fill="none" stroke="#f6dcaa" stroke-width="0.9" opacity="0.55"/><polygon points="632.4,25.6 666.4,61.1 635.0,99.4 601.9,61.1" fill="none" stroke="#e8b468" stroke-width="0.8"/></g>
<line x1="585.3" y1="64.0" x2="587.6" y2="200.0" stroke="#2a2a2a" stroke-width="1.6" stroke-linecap="round"/>
<line x1="657.7" y1="64.0" x2="659.6" y2="200.0" stroke="#2a2a2a" stroke-width="1.6" stroke-linecap="round"/>
<line x1="584.7" y1="64.0" x2="658.3" y2="64.0" stroke="#2a2a2a" stroke-width="1.6" stroke-linecap="round"/>
<line x1="658.3" y1="64.0" x2="684.1" y2="60.8" stroke="#2a2a2a" stroke-width="1.6" stroke-linecap="round"/>
<circle cx="633.2" cy="18.4" r="7.6" fill="url(#gball)"/>
<circle cx="635.0" cy="106.7" r="7.6" fill="url(#gball)"/>
<circle cx="597.6" cy="62.6" r="5.4" fill="url(#rball)"/>
<circle cx="621.3" cy="64.0" r="5.4" fill="url(#rball)"/>
<circle cx="670.6" cy="62.3" r="5.4" fill="url(#rball)"/>
<g><polygon points="611.4,155.8 645.4,191.3 614.0,229.6 580.9,191.3" fill="#e8aa58" opacity="0.95"/><polyline points="580.9,191.3 626.4,189.8 645.4,191.3" fill="none" stroke="#f4cc90" stroke-width="0.8"/><line x1="611.4" y1="155.8" x2="626.4" y2="189.8" stroke="#f4cc90" stroke-width="0.8"/><line x1="614.0" y1="229.6" x2="626.4" y2="189.8" stroke="#f4cc90" stroke-width="0.8"/><line x1="613.4" y1="192.8" x2="626.4" y2="189.8" stroke="#f08030" stroke-width="2.2" opacity="0.8"/><circle cx="626.4" cy="189.8" r="4.2" fill="#f07a30" opacity="0.7"/><polygon points="611.4,155.8 580.9,191.3 600.3,194.2" fill="#e2a654" opacity="0.55"/><polygon points="611.4,155.8 600.3,194.2 645.4,191.3" fill="#dc8c1a" opacity="0.68"/><polygon points="614.0,229.6 580.9,191.3 600.3,194.2" fill="#dc9e4c" opacity="0.55"/><polygon points="614.0,229.6 600.3,194.2 645.4,191.3" fill="#d48618" opacity="0.68"/><line x1="613.4" y1="192.8" x2="576.6" y2="192.8" stroke="#f2701a" stroke-width="2.4" opacity="0.85"/><line x1="613.4" y1="192.8" x2="649.6" y2="192.5" stroke="#f2701a" stroke-width="2.4" opacity="0.85"/><line x1="613.4" y1="192.8" x2="600.3" y2="194.2" stroke="#f2701a" stroke-width="2.4" opacity="0.85"/><line x1="612.2" y1="148.6" x2="614.0" y2="236.9" stroke="#f6a612" stroke-width="3.4" opacity="0.85"/><line x1="612.2" y1="148.6" x2="612.7" y2="167.2" stroke="#9ccc28" stroke-width="3.2" opacity="0.85"/><line x1="614.0" y1="236.9" x2="613.7" y2="218.4" stroke="#9ccc28" stroke-width="3.2" opacity="0.85"/><circle cx="613.4" cy="192.8" r="9.0" fill="url(#oball)" opacity="0.9"/><polyline points="611.4,155.8 600.3,194.2 614.0,229.6" fill="none" stroke="#f6dcaa" stroke-width="0.9" opacity="0.55"/><polyline points="580.9,191.3 600.3,194.2 645.4,191.3" fill="none" stroke="#f6dcaa" stroke-width="0.9" opacity="0.55"/><polygon points="611.4,155.8 645.4,191.3 614.0,229.6 580.9,191.3" fill="none" stroke="#e8b468" stroke-width="0.8"/></g>
<circle cx="612.2" cy="148.6" r="7.6" fill="url(#gball)"/>
<circle cx="614.0" cy="236.9" r="7.6" fill="url(#gball)"/>
<circle cx="576.6" cy="192.8" r="5.4" fill="url(#rball)"/>
<circle cx="600.3" cy="194.2" r="5.4" fill="url(#rball)"/>
<circle cx="649.6" cy="192.5" r="5.4" fill="url(#rball)"/>
<g><polygon points="683.7,155.8 717.7,191.3 686.3,229.6 653.2,191.3" fill="#e8aa58" opacity="0.95"/><polyline points="653.2,191.3 698.7,189.8 717.7,191.3" fill="none" stroke="#f4cc90" stroke-width="0.8"/><line x1="683.7" y1="155.8" x2="698.7" y2="189.8" stroke="#f4cc90" stroke-width="0.8"/><line x1="686.3" y1="229.6" x2="698.7" y2="189.8" stroke="#f4cc90" stroke-width="0.8"/><line x1="685.7" y1="192.8" x2="698.7" y2="189.8" stroke="#f08030" stroke-width="2.2" opacity="0.8"/><circle cx="698.7" cy="189.8" r="4.2" fill="#f07a30" opacity="0.7"/><polygon points="683.7,155.8 653.2,191.3 672.6,194.2" fill="#e2a654" opacity="0.55"/><polygon points="683.7,155.8 672.6,194.2 717.7,191.3" fill="#dc8c1a" opacity="0.68"/><polygon points="686.3,229.6 653.2,191.3 672.6,194.2" fill="#dc9e4c" opacity="0.55"/><polygon points="686.3,229.6 672.6,194.2 717.7,191.3" fill="#d48618" opacity="0.68"/><line x1="685.7" y1="192.8" x2="648.9" y2="192.8" stroke="#f2701a" stroke-width="2.4" opacity="0.85"/><line x1="685.7" y1="192.8" x2="721.9" y2="192.5" stroke="#f2701a" stroke-width="2.4" opacity="0.85"/><line x1="685.7" y1="192.8" x2="672.6" y2="194.2" stroke="#f2701a" stroke-width="2.4" opacity="0.85"/><line x1="684.5" y1="148.6" x2="686.3" y2="236.9" stroke="#f6a612" stroke-width="3.4" opacity="0.85"/><line x1="684.5" y1="148.6" x2="685.0" y2="167.2" stroke="#9ccc28" stroke-width="3.2" opacity="0.85"/><line x1="686.3" y1="236.9" x2="686.0" y2="218.4" stroke="#9ccc28" stroke-width="3.2" opacity="0.85"/><circle cx="685.7" cy="192.8" r="9.0" fill="url(#oball)" opacity="0.9"/><polyline points="683.7,155.8 672.6,194.2 686.3,229.6" fill="none" stroke="#f6dcaa" stroke-width="0.9" opacity="0.55"/><polyline points="653.2,191.3 672.6,194.2 717.7,191.3" fill="none" stroke="#f6dcaa" stroke-width="0.9" opacity="0.55"/><polygon points="683.7,155.8 717.7,191.3 686.3,229.6 653.2,191.3" fill="none" stroke="#e8b468" stroke-width="0.8"/></g>
<circle cx="684.5" cy="148.6" r="7.6" fill="url(#gball)"/>
<circle cx="686.3" cy="236.9" r="7.6" fill="url(#gball)"/>
<circle cx="648.9" cy="192.8" r="5.4" fill="url(#rball)"/>
<circle cx="672.6" cy="194.2" r="5.4" fill="url(#rball)"/>
<circle cx="721.9" cy="192.5" r="5.4" fill="url(#rball)"/>
<g><polygon points="586.0,159.3 620.0,194.8 588.6,233.1 555.5,194.8" fill="#e8aa58" opacity="0.95"/><polyline points="555.5,194.8 601.0,193.3 620.0,194.8" fill="none" stroke="#f4cc90" stroke-width="0.8"/><line x1="586.0" y1="159.3" x2="601.0" y2="193.3" stroke="#f4cc90" stroke-width="0.8"/><line x1="588.6" y1="233.1" x2="601.0" y2="193.3" stroke="#f4cc90" stroke-width="0.8"/><line x1="588.0" y1="196.3" x2="601.0" y2="193.3" stroke="#f08030" stroke-width="2.2" opacity="0.8"/><circle cx="601.0" cy="193.3" r="4.2" fill="#f07a30" opacity="0.7"/><polygon points="586.0,159.3 555.5,194.8 574.9,197.7" fill="#e2a654" opacity="0.55"/><polygon points="586.0,159.3 574.9,197.7 620.0,194.8" fill="#dc8c1a" opacity="0.68"/><polygon points="588.6,233.1 555.5,194.8 574.9,197.7" fill="#dc9e4c" opacity="0.55"/><polygon points="588.6,233.1 574.9,197.7 620.0,194.8" fill="#d48618" opacity="0.68"/><line x1="588.0" y1="196.3" x2="551.2" y2="196.3" stroke="#f2701a" stroke-width="2.4" opacity="0.85"/><line x1="588.0" y1="196.3" x2="624.2" y2="196.0" stroke="#f2701a" stroke-width="2.4" opacity="0.85"/><line x1="588.0" y1="196.3" x2="574.9" y2="197.7" stroke="#f2701a" stroke-width="2.4" opacity="0.85"/><line x1="586.8" y1="152.1" x2="588.6" y2="240.4" stroke="#f6a612" stroke-width="3.4" opacity="0.85"/><line x1="586.8" y1="152.1" x2="587.3" y2="170.7" stroke="#9ccc28" stroke-width="3.2" opacity="0.85"/><line x1="588.6" y1="240.4" x2="588.3" y2="221.9" stroke="#9ccc28" stroke-width="3.2" opacity="0.85"/><circle cx="588.0" cy="196.3" r="9.0" fill="url(#oball)" opacity="0.9"/><polyline points="586.0,159.3 574.9,197.7 588.6,233.1" fill="none" stroke="#f6dcaa" stroke-width="0.9" opacity="0.55"/><polyline points="555.5,194.8 574.9,197.7 620.0,194.8" fill="none" stroke="#f6dcaa" stroke-width="0.9" opacity="0.55"/><polygon points="586.0,159.3 620.0,194.8 588.6,233.1 555.5,194.8" fill="none" stroke="#e8b468" stroke-width="0.8"/></g>
<circle cx="586.8" cy="152.1" r="7.6" fill="url(#gball)"/>
<circle cx="588.6" cy="240.4" r="7.6" fill="url(#gball)"/>
<circle cx="551.2" cy="196.3" r="5.4" fill="url(#rball)"/>
<circle cx="574.9" cy="197.7" r="5.4" fill="url(#rball)"/>
<circle cx="624.2" cy="196.0" r="5.4" fill="url(#rball)"/>
<g><polygon points="658.0,159.2 692.0,194.7 660.6,233.0 627.5,194.7" fill="#e8aa58" opacity="0.95"/><polyline points="627.5,194.7 673.0,193.2 692.0,194.7" fill="none" stroke="#f4cc90" stroke-width="0.8"/><line x1="658.0" y1="159.2" x2="673.0" y2="193.2" stroke="#f4cc90" stroke-width="0.8"/><line x1="660.6" y1="233.0" x2="673.0" y2="193.2" stroke="#f4cc90" stroke-width="0.8"/><line x1="660.0" y1="196.2" x2="673.0" y2="193.2" stroke="#f08030" stroke-width="2.2" opacity="0.8"/><circle cx="673.0" cy="193.2" r="4.2" fill="#f07a30" opacity="0.7"/><polygon points="658.0,159.2 627.5,194.7 646.9,197.6" fill="#e2a654" opacity="0.55"/><polygon points="658.0,159.2 646.9,197.6 692.0,194.7" fill="#dc8c1a" opacity="0.68"/><polygon points="660.6,233.0 627.5,194.7 646.9,197.6" fill="#dc9e4c" opacity="0.55"/><polygon points="660.6,233.0 646.9,197.6 692.0,194.7" fill="#d48618" opacity="0.68"/><line x1="660.0" y1="196.2" x2="623.2" y2="196.2" stroke="#f2701a" stroke-width="2.4" opacity="0.85"/><line x1="660.0" y1="196.2" x2="696.2" y2="195.9" stroke="#f2701a" stroke-width="2.4" opacity="0.85"/><line x1="660.0" y1="196.2" x2="646.9" y2="197.6" stroke="#f2701a" stroke-width="2.4" opacity="0.85"/><line x1="658.8" y1="152.0" x2="660.6" y2="240.3" stroke="#f6a612" stroke-width="3.4" opacity="0.85"/><line x1="658.8" y1="152.0" x2="659.3" y2="170.6" stroke="#9ccc28" stroke-width="3.2" opacity="0.85"/><line x1="660.6" y1="240.3" x2="660.3" y2="221.8" stroke="#9ccc28" stroke-width="3.2" opacity="0.85"/><circle cx="660.0" cy="196.2" r="9.0" fill="url(#oball)" opacity="0.9"/><polyline points="658.0,159.2 646.9,197.6 660.6,233.0" fill="none" stroke="#f6dcaa" stroke-width="0.9" opacity="0.55"/><polyline points="627.5,194.7 646.9,197.6 692.0,194.7" fill="none" stroke="#f6dcaa" stroke-width="0.9" opacity="0.55"/><polygon points="658.0,159.2 692.0,194.7 660.6,233.0 627.5,194.7" fill="none" stroke="#e8b468" stroke-width="0.8"/></g>
<circle cx="658.8" cy="152.0" r="7.6" fill="url(#gball)"/>
<circle cx="660.6" cy="240.3" r="7.6" fill="url(#gball)"/>
<circle cx="623.2" cy="196.2" r="5.4" fill="url(#rball)"/>
<circle cx="646.9" cy="197.6" r="5.4" fill="url(#rball)"/>
<circle cx="696.2" cy="195.9" r="5.4" fill="url(#rball)"/>
<g><polygon points="637.7,288.8 671.7,324.3 640.3,362.6 607.2,324.3" fill="#e8aa58" opacity="0.95"/><polyline points="607.2,324.3 652.7,322.8 671.7,324.3" fill="none" stroke="#f4cc90" stroke-width="0.8"/><line x1="637.7" y1="288.8" x2="652.7" y2="322.8" stroke="#f4cc90" stroke-width="0.8"/><line x1="640.3" y1="362.6" x2="652.7" y2="322.8" stroke="#f4cc90" stroke-width="0.8"/><line x1="639.7" y1="325.8" x2="652.7" y2="322.8" stroke="#f08030" stroke-width="2.2" opacity="0.8"/><circle cx="652.7" cy="322.8" r="4.2" fill="#f07a30" opacity="0.7"/><polygon points="637.7,288.8 607.2,324.3 626.6,327.2" fill="#e2a654" opacity="0.55"/><polygon points="637.7,288.8 626.6,327.2 671.7,324.3" fill="#dc8c1a" opacity="0.68"/><polygon points="640.3,362.6 607.2,324.3 626.6,327.2" fill="#dc9e4c" opacity="0.55"/><polygon points="640.3,362.6 626.6,327.2 671.7,324.3" fill="#d48618" opacity="0.68"/><line x1="639.7" y1="325.8" x2="602.9" y2="325.8" stroke="#f2701a" stroke-width="2.4" opacity="0.85"/><line x1="639.7" y1="325.8" x2="675.9" y2="325.5" stroke="#f2701a" stroke-width="2.4" opacity="0.85"/><line x1="639.7" y1="325.8" x2="626.6" y2="327.2" stroke="#f2701a" stroke-width="2.4" opacity="0.85"/><line x1="638.5" y1="281.6" x2="640.3" y2="369.9" stroke="#f6a612" stroke-width="3.4" opacity="0.85"/><line x1="638.5" y1="281.6" x2="639.0" y2="300.2" stroke="#9ccc28" stroke-width="3.2" opacity="0.85"/><line x1="640.3" y1="369.9" x2="640.0" y2="351.4" stroke="#9ccc28" stroke-width="3.2" opacity="0.85"/><circle cx="639.7" cy="325.8" r="9.0" fill="url(#oball)" opacity="0.9"/><polyline points="637.7,288.8 626.6,327.2 640.3,362.6" fill="none" stroke="#f6dcaa" stroke-width="0.9" opacity="0.55"/><polyline points="607.2,324.3 626.6,327.2 671.7,324.3" fill="none" stroke="#f6dcaa" stroke-width="0.9" opacity="0.55"/><polygon points="637.7,288.8 671.7,324.3 640.3,362.6 607.2,324.3" fill="none" stroke="#e8b468" stroke-width="0.8"/></g>
<line x1="588.9" y1="246.0" x2="590.0" y2="328.4" stroke="#2a2a2a" stroke-width="1.6" stroke-linecap="round"/>
<line x1="660.8" y1="246.0" x2="661.6" y2="328.1" stroke="#2a2a2a" stroke-width="1.6" stroke-linecap="round"/>
<line x1="590.0" y1="328.4" x2="664.9" y2="328.1" stroke="#2a2a2a" stroke-width="1.6" stroke-linecap="round"/>
<line x1="664.9" y1="328.1" x2="689.3" y2="324.7" stroke="#2a2a2a" stroke-width="1.6" stroke-linecap="round"/>
<circle cx="638.5" cy="281.6" r="7.6" fill="url(#gball)"/>
<circle cx="640.3" cy="369.9" r="7.6" fill="url(#gball)"/>
<circle cx="602.9" cy="325.8" r="5.4" fill="url(#rball)"/>
<circle cx="626.6" cy="327.2" r="5.4" fill="url(#rball)"/>
<circle cx="675.9" cy="325.5" r="5.4" fill="url(#rball)"/>
<line x1="517.6" y1="348" x2="517.6" y2="309" stroke="#1818e0" stroke-width="4.8"/>
<polygon points="517.2,288.4 508.6,309.6 525.7,309.6" fill="#1010e0"/>
<line x1="510" y1="354.6" x2="475" y2="355" stroke="#18c818" stroke-width="5"/>
<polygon points="453.9,355 476.7,346.8 476.7,363.2" fill="#10b010"/>
<circle cx="531.2" cy="354.0" r="7.4" fill="#f01414"/>
<circle cx="529" cy="354" r="3" fill="#a01010" opacity="0.6"/>
<circle cx="517.7" cy="354.4" r="7.4" fill="url(#wball)"/>
<text x="510.56" y="281.90" font-family='"Liberation Sans", sans-serif' font-size="19.64" fill="#000" font-weight="normal" textLength="11.72" lengthAdjust="spacingAndGlyphs" >c</text>
<text x="438.05" y="362.18" font-family='"Liberation Sans", sans-serif' font-size="22.45" fill="#000" font-weight="normal" textLength="14.09" lengthAdjust="spacingAndGlyphs" >b</text>
<text x="540.95" y="353.67" font-family='"Liberation Sans", sans-serif' font-size="22.91" fill="#000" font-weight="normal" textLength="10.37" lengthAdjust="spacingAndGlyphs" >a</text>
<g><polygon points="952.8,26.3 983.8,60.1 953.3,94.3 921.8,59.8" fill="#e8aa58" opacity="0.95"/><polyline points="921.8,59.8 962.3,55.2 983.8,60.1" fill="none" stroke="#f4cc90" stroke-width="0.8"/><line x1="952.8" y1="26.3" x2="962.3" y2="55.2" stroke="#f4cc90" stroke-width="0.8"/><line x1="953.3" y1="94.3" x2="962.3" y2="55.2" stroke="#f4cc90" stroke-width="0.8"/><line x1="952.8" y1="59.8" x2="962.3" y2="55.2" stroke="#f08030" stroke-width="2.2" opacity="0.8"/><circle cx="962.3" cy="55.2" r="4.2" fill="#f07a30" opacity="0.7"/><polygon points="952.8,26.3 921.8,59.8 943.3,64.4" fill="#e2a654" opacity="0.55"/><polygon points="952.8,26.3 943.3,64.4 983.8,60.1" fill="#dc8c1a" opacity="0.68"/><polygon points="953.3,94.3 921.8,59.8 943.3,64.4" fill="#dc9e4c" opacity="0.55"/><polygon points="953.3,94.3 943.3,64.4 983.8,60.1" fill="#d48618" opacity="0.68"/><line x1="952.8" y1="59.8" x2="917.3" y2="59.5" stroke="#f2701a" stroke-width="2.4" opacity="0.85"/><line x1="952.8" y1="59.8" x2="986.8" y2="60.3" stroke="#f2701a" stroke-width="2.4" opacity="0.85"/><line x1="952.8" y1="59.8" x2="943.3" y2="64.4" stroke="#f2701a" stroke-width="2.4" opacity="0.85"/><line x1="952.8" y1="18.3" x2="953.3" y2="101.8" stroke="#f6a612" stroke-width="3.4" opacity="0.85"/><line x1="952.8" y1="18.3" x2="952.8" y2="35.7" stroke="#9ccc28" stroke-width="3.2" opacity="0.85"/><line x1="953.3" y1="101.8" x2="953.1" y2="84.2" stroke="#9ccc28" stroke-width="3.2" opacity="0.85"/><circle cx="952.8" cy="59.8" r="7.5" fill="url(#oball)" opacity="0.9"/><polyline points="952.8,26.3 943.3,64.4 953.3,94.3" fill="none" stroke="#f6dcaa" stroke-width="0.9" opacity="0.55"/><polyline points="921.8,59.8 943.3,64.4 983.8,60.1" fill="none" stroke="#f6dcaa" stroke-width="0.9" opacity="0.55"/><polygon points="952.8,26.3 983.8,60.1 953.3,94.3 921.8,59.8" fill="none" stroke="#e8b468" stroke-width="0.8"/></g>
<circle cx="952.8" cy="18.3" r="8.2" fill="url(#gball)"/>
<circle cx="953.3" cy="101.8" r="8.2" fill="url(#gball)"/>
<g><polygon points="1023.0,27.6 1054.0,61.4 1023.5,95.6 992.0,61.1" fill="#e8aa58" opacity="0.95"/><polyline points="992.0,61.1 1032.5,56.5 1054.0,61.4" fill="none" stroke="#f4cc90" stroke-width="0.8"/><line x1="1023.0" y1="27.6" x2="1032.5" y2="56.5" stroke="#f4cc90" stroke-width="0.8"/><line x1="1023.5" y1="95.6" x2="1032.5" y2="56.5" stroke="#f4cc90" stroke-width="0.8"/><line x1="1023.0" y1="61.1" x2="1032.5" y2="56.5" stroke="#f08030" stroke-width="2.2" opacity="0.8"/><circle cx="1032.5" cy="56.5" r="4.2" fill="#f07a30" opacity="0.7"/><polygon points="1023.0,27.6 992.0,61.1 1013.5,65.7" fill="#e2a654" opacity="0.55"/><polygon points="1023.0,27.6 1013.5,65.7 1054.0,61.4" fill="#dc8c1a" opacity="0.68"/><polygon points="1023.5,95.6 992.0,61.1 1013.5,65.7" fill="#dc9e4c" opacity="0.55"/><polygon points="1023.5,95.6 1013.5,65.7 1054.0,61.4" fill="#d48618" opacity="0.68"/><line x1="1023.0" y1="61.1" x2="987.5" y2="60.8" stroke="#f2701a" stroke-width="2.4" opacity="0.85"/><line x1="1023.0" y1="61.1" x2="1057.0" y2="61.6" stroke="#f2701a" stroke-width="2.4" opacity="0.85"/><line x1="1023.0" y1="61.1" x2="1013.5" y2="65.7" stroke="#f2701a" stroke-width="2.4" opacity="0.85"/><line x1="1023.0" y1="19.6" x2="1023.5" y2="103.1" stroke="#f6a612" stroke-width="3.4" opacity="0.85"/><line x1="1023.0" y1="19.6" x2="1023.0" y2="37.0" stroke="#9ccc28" stroke-width="3.2" opacity="0.85"/><line x1="1023.5" y1="103.1" x2="1023.3" y2="85.5" stroke="#9ccc28" stroke-width="3.2" opacity="0.85"/><circle cx="1023.0" cy="61.1" r="7.5" fill="url(#oball)" opacity="0.9"/><polyline points="1023.0,27.6 1013.5,65.7 1023.5,95.6" fill="none" stroke="#f6dcaa" stroke-width="0.9" opacity="0.55"/><polyline points="992.0,61.1 1013.5,65.7 1054.0,61.4" fill="none" stroke="#f6dcaa" stroke-width="0.9" opacity="0.55"/><polygon points="1023.0,27.6 1054.0,61.4 1023.5,95.6 992.0,61.1" fill="none" stroke="#e8b468" stroke-width="0.8"/></g>
<circle cx="1023.0" cy="19.6" r="8.2" fill="url(#gball)"/>
<circle cx="1023.5" cy="103.1" r="8.2" fill="url(#gball)"/>
<circle cx="1057.0" cy="61.6" r="5.4" fill="url(#rball)"/>
<g><polygon points="934.3,35.1 965.3,68.9 934.8,103.1 903.3,68.6" fill="#e8aa58" opacity="0.95"/><polyline points="903.3,68.6 943.8,64.0 965.3,68.9" fill="none" stroke="#f4cc90" stroke-width="0.8"/><line x1="934.3" y1="35.1" x2="943.8" y2="64.0" stroke="#f4cc90" stroke-width="0.8"/><line x1="934.8" y1="103.1" x2="943.8" y2="64.0" stroke="#f4cc90" stroke-width="0.8"/><line x1="934.3" y1="68.6" x2="943.8" y2="64.0" stroke="#f08030" stroke-width="2.2" opacity="0.8"/><circle cx="943.8" cy="64.0" r="4.2" fill="#f07a30" opacity="0.7"/><polygon points="934.3,35.1 903.3,68.6 924.8,73.2" fill="#e2a654" opacity="0.55"/><polygon points="934.3,35.1 924.8,73.2 965.3,68.9" fill="#dc8c1a" opacity="0.68"/><polygon points="934.8,103.1 903.3,68.6 924.8,73.2" fill="#dc9e4c" opacity="0.55"/><polygon points="934.8,103.1 924.8,73.2 965.3,68.9" fill="#d48618" opacity="0.68"/><line x1="934.3" y1="68.6" x2="898.8" y2="68.3" stroke="#f2701a" stroke-width="2.4" opacity="0.85"/><line x1="934.3" y1="68.6" x2="968.3" y2="69.1" stroke="#f2701a" stroke-width="2.4" opacity="0.85"/><line x1="934.3" y1="68.6" x2="924.8" y2="73.2" stroke="#f2701a" stroke-width="2.4" opacity="0.85"/><line x1="934.3" y1="27.1" x2="934.8" y2="110.6" stroke="#f6a612" stroke-width="3.4" opacity="0.85"/><line x1="934.3" y1="27.1" x2="934.3" y2="44.5" stroke="#9ccc28" stroke-width="3.2" opacity="0.85"/><line x1="934.8" y1="110.6" x2="934.6" y2="93.0" stroke="#9ccc28" stroke-width="3.2" opacity="0.85"/><circle cx="934.3" cy="68.6" r="7.5" fill="url(#oball)" opacity="0.9"/><polyline points="934.3,35.1 924.8,73.2 934.8,103.1" fill="none" stroke="#f6dcaa" stroke-width="0.9" opacity="0.55"/><polyline points="903.3,68.6 924.8,73.2 965.3,68.9" fill="none" stroke="#f6dcaa" stroke-width="0.9" opacity="0.55"/><polygon points="934.3,35.1 965.3,68.9 934.8,103.1 903.3,68.6" fill="none" stroke="#e8b468" stroke-width="0.8"/></g>
<circle cx="934.3" cy="27.1" r="8.2" fill="url(#gball)"/>
<circle cx="934.8" cy="110.6" r="8.2" fill="url(#gball)"/>
<circle cx="898.8" cy="68.3" r="5.4" fill="url(#rball)"/>
<circle cx="924.8" cy="73.2" r="5.4" fill="url(#rball)"/>
<circle cx="968.3" cy="69.1" r="5.4" fill="url(#rball)"/>
<g><polygon points="1003.5,36.5 1034.5,70.3 1004.0,104.5 972.5,70.0" fill="#e8aa58" opacity="0.95"/><polyline points="972.5,70.0 1013.0,65.4 1034.5,70.3" fill="none" stroke="#f4cc90" stroke-width="0.8"/><line x1="1003.5" y1="36.5" x2="1013.0" y2="65.4" stroke="#f4cc90" stroke-width="0.8"/><line x1="1004.0" y1="104.5" x2="1013.0" y2="65.4" stroke="#f4cc90" stroke-width="0.8"/><line x1="1003.5" y1="70.0" x2="1013.0" y2="65.4" stroke="#f08030" stroke-width="2.2" opacity="0.8"/><circle cx="1013.0" cy="65.4" r="4.2" fill="#f07a30" opacity="0.7"/><polygon points="1003.5,36.5 972.5,70.0 994.0,74.6" fill="#e2a654" opacity="0.55"/><polygon points="1003.5,36.5 994.0,74.6 1034.5,70.3" fill="#dc8c1a" opacity="0.68"/><polygon points="1004.0,104.5 972.5,70.0 994.0,74.6" fill="#dc9e4c" opacity="0.55"/><polygon points="1004.0,104.5 994.0,74.6 1034.5,70.3" fill="#d48618" opacity="0.68"/><line x1="1003.5" y1="70.0" x2="968.0" y2="69.7" stroke="#f2701a" stroke-width="2.4" opacity="0.85"/><line x1="1003.5" y1="70.0" x2="1037.5" y2="70.5" stroke="#f2701a" stroke-width="2.4" opacity="0.85"/><line x1="1003.5" y1="70.0" x2="994.0" y2="74.6" stroke="#f2701a" stroke-width="2.4" opacity="0.85"/><line x1="1003.5" y1="28.5" x2="1004.0" y2="112.0" stroke="#f6a612" stroke-width="3.4" opacity="0.85"/><line x1="1003.5" y1="28.5" x2="1003.5" y2="45.9" stroke="#9ccc28" stroke-width="3.2" opacity="0.85"/><line x1="1004.0" y1="112.0" x2="1003.8" y2="94.4" stroke="#9ccc28" stroke-width="3.2" opacity="0.85"/><circle cx="1003.5" cy="70.0" r="7.5" fill="url(#oball)" opacity="0.9"/><polyline points="1003.5,36.5 994.0,74.6 1004.0,104.5" fill="none" stroke="#f6dcaa" stroke-width="0.9" opacity="0.55"/><polyline points="972.5,70.0 994.0,74.6 1034.5,70.3" fill="none" stroke="#f6dcaa" stroke-width="0.9" opacity="0.55"/><polygon points="1003.5,36.5 1034.5,70.3 1004.0,104.5 972.5,70.0" fill="none" stroke="#e8b468" stroke-width="0.8"/></g>
<circle cx="1003.5" cy="28.5" r="8.2" fill="url(#gball)"/>
<circle cx="1004.0" cy="112.0" r="8.2" fill="url(#gball)"/>
<circle cx="968.0" cy="69.7" r="5.4" fill="url(#rball)"/>
<circle cx="994.0" cy="74.6" r="5.4" fill="url(#rball)"/>
<circle cx="1037.5" cy="70.5" r="5.4" fill="url(#rball)"/>
<g><polygon points="1024.5,283.5 1055.5,317.3 1025.0,351.5 993.5,317.0" fill="#e8aa58" opacity="0.95"/><polyline points="993.5,317.0 1034.0,312.4 1055.5,317.3" fill="none" stroke="#f4cc90" stroke-width="0.8"/><line x1="1024.5" y1="283.5" x2="1034.0" y2="312.4" stroke="#f4cc90" stroke-width="0.8"/><line x1="1025.0" y1="351.5" x2="1034.0" y2="312.4" stroke="#f4cc90" stroke-width="0.8"/><line x1="1024.5" y1="317.0" x2="1034.0" y2="312.4" stroke="#f08030" stroke-width="2.2" opacity="0.8"/><circle cx="1034.0" cy="312.4" r="4.2" fill="#f07a30" opacity="0.7"/><polygon points="1024.5,283.5 993.5,317.0 1015.0,321.6" fill="#e2a654" opacity="0.55"/><polygon points="1024.5,283.5 1015.0,321.6 1055.5,317.3" fill="#dc8c1a" opacity="0.68"/><polygon points="1025.0,351.5 993.5,317.0 1015.0,321.6" fill="#dc9e4c" opacity="0.55"/><polygon points="1025.0,351.5 1015.0,321.6 1055.5,317.3" fill="#d48618" opacity="0.68"/><line x1="1024.5" y1="317.0" x2="989.0" y2="316.7" stroke="#f2701a" stroke-width="2.4" opacity="0.85"/><line x1="1024.5" y1="317.0" x2="1058.5" y2="317.5" stroke="#f2701a" stroke-width="2.4" opacity="0.85"/><line x1="1024.5" y1="317.0" x2="1015.0" y2="321.6" stroke="#f2701a" stroke-width="2.4" opacity="0.85"/><line x1="1024.5" y1="275.5" x2="1025.0" y2="359.0" stroke="#f6a612" stroke-width="3.4" opacity="0.85"/><line x1="1024.5" y1="275.5" x2="1024.5" y2="292.9" stroke="#9ccc28" stroke-width="3.2" opacity="0.85"/><line x1="1025.0" y1="359.0" x2="1024.8" y2="341.4" stroke="#9ccc28" stroke-width="3.2" opacity="0.85"/><circle cx="1024.5" cy="317.0" r="7.5" fill="url(#oball)" opacity="0.9"/><polyline points="1024.5,283.5 1015.0,321.6 1025.0,351.5" fill="none" stroke="#f6dcaa" stroke-width="0.9" opacity="0.55"/><polyline points="993.5,317.0 1015.0,321.6 1055.5,317.3" fill="none" stroke="#f6dcaa" stroke-width="0.9" opacity="0.55"/><polygon points="1024.5,283.5 1055.5,317.3 1025.0,351.5 993.5,317.0" fill="none" stroke="#e8b468" stroke-width="0.8"/></g>
<circle cx="1024.5" cy="275.5" r="8.2" fill="url(#gball)"/>
<circle cx="1025.0" cy="359.0" r="8.2" fill="url(#gball)"/>
<g><polygon points="1094.4,285.1 1125.4,318.9 1094.9,353.1 1063.4,318.6" fill="#e8aa58" opacity="0.95"/><polyline points="1063.4,318.6 1103.9,314.0 1125.4,318.9" fill="none" stroke="#f4cc90" stroke-width="0.8"/><line x1="1094.4" y1="285.1" x2="1103.9" y2="314.0" stroke="#f4cc90" stroke-width="0.8"/><line x1="1094.9" y1="353.1" x2="1103.9" y2="314.0" stroke="#f4cc90" stroke-width="0.8"/><line x1="1094.4" y1="318.6" x2="1103.9" y2="314.0" stroke="#f08030" stroke-width="2.2" opacity="0.8"/><circle cx="1103.9" cy="314.0" r="4.2" fill="#f07a30" opacity="0.7"/><polygon points="1094.4,285.1 1063.4,318.6 1084.9,323.2" fill="#e2a654" opacity="0.55"/><polygon points="1094.4,285.1 1084.9,323.2 1125.4,318.9" fill="#dc8c1a" opacity="0.68"/><polygon points="1094.9,353.1 1063.4,318.6 1084.9,323.2" fill="#dc9e4c" opacity="0.55"/><polygon points="1094.9,353.1 1084.9,323.2 1125.4,318.9" fill="#d48618" opacity="0.68"/><line x1="1094.4" y1="318.6" x2="1058.9" y2="318.3" stroke="#f2701a" stroke-width="2.4" opacity="0.85"/><line x1="1094.4" y1="318.6" x2="1128.4" y2="319.1" stroke="#f2701a" stroke-width="2.4" opacity="0.85"/><line x1="1094.4" y1="318.6" x2="1084.9" y2="323.2" stroke="#f2701a" stroke-width="2.4" opacity="0.85"/><line x1="1094.4" y1="277.1" x2="1094.9" y2="360.6" stroke="#f6a612" stroke-width="3.4" opacity="0.85"/><line x1="1094.4" y1="277.1" x2="1094.4" y2="294.5" stroke="#9ccc28" stroke-width="3.2" opacity="0.85"/><line x1="1094.9" y1="360.6" x2="1094.7" y2="343.0" stroke="#9ccc28" stroke-width="3.2" opacity="0.85"/><circle cx="1094.4" cy="318.6" r="7.5" fill="url(#oball)" opacity="0.9"/><polyline points="1094.4,285.1 1084.9,323.2 1094.9,353.1" fill="none" stroke="#f6dcaa" stroke-width="0.9" opacity="0.55"/><polyline points="1063.4,318.6 1084.9,323.2 1125.4,318.9" fill="none" stroke="#f6dcaa" stroke-width="0.9" opacity="0.55"/><polygon points="1094.4,285.1 1125.4,318.9 1094.9,353.1 1063.4,318.6" fill="none" stroke="#e8b468" stroke-width="0.8"/></g>
<circle cx="1094.4" cy="277.1" r="8.2" fill="url(#gball)"/>
<circle cx="1094.9" cy="360.6" r="8.2" fill="url(#gball)"/>
<circle cx="1128.4" cy="319.1" r="5.4" fill="url(#rball)"/>
<g><polygon points="979.5,159.6 1010.5,193.4 980.0,227.6 948.5,193.1" fill="#e8aa58" opacity="0.95"/><polyline points="948.5,193.1 989.0,188.5 1010.5,193.4" fill="none" stroke="#f4cc90" stroke-width="0.8"/><line x1="979.5" y1="159.6" x2="989.0" y2="188.5" stroke="#f4cc90" stroke-width="0.8"/><line x1="980.0" y1="227.6" x2="989.0" y2="188.5" stroke="#f4cc90" stroke-width="0.8"/><line x1="979.5" y1="193.1" x2="989.0" y2="188.5" stroke="#f08030" stroke-width="2.2" opacity="0.8"/><circle cx="989.0" cy="188.5" r="4.2" fill="#f07a30" opacity="0.7"/><polygon points="979.5,159.6 948.5,193.1 970.0,197.7" fill="#e2a654" opacity="0.55"/><polygon points="979.5,159.6 970.0,197.7 1010.5,193.4" fill="#dc8c1a" opacity="0.68"/><polygon points="980.0,227.6 948.5,193.1 970.0,197.7" fill="#dc9e4c" opacity="0.55"/><polygon points="980.0,227.6 970.0,197.7 1010.5,193.4" fill="#d48618" opacity="0.68"/><line x1="979.5" y1="193.1" x2="944.0" y2="192.8" stroke="#f2701a" stroke-width="2.4" opacity="0.85"/><line x1="979.5" y1="193.1" x2="1013.5" y2="193.6" stroke="#f2701a" stroke-width="2.4" opacity="0.85"/><line x1="979.5" y1="193.1" x2="970.0" y2="197.7" stroke="#f2701a" stroke-width="2.4" opacity="0.85"/><line x1="979.5" y1="151.6" x2="980.0" y2="235.1" stroke="#f6a612" stroke-width="3.4" opacity="0.85"/><line x1="979.5" y1="151.6" x2="979.5" y2="169.0" stroke="#9ccc28" stroke-width="3.2" opacity="0.85"/><line x1="980.0" y1="235.1" x2="979.8" y2="217.5" stroke="#9ccc28" stroke-width="3.2" opacity="0.85"/><circle cx="979.5" cy="193.1" r="7.5" fill="url(#oball)" opacity="0.9"/><polyline points="979.5,159.6 970.0,197.7 980.0,227.6" fill="none" stroke="#f6dcaa" stroke-width="0.9" opacity="0.55"/><polyline points="948.5,193.1 970.0,197.7 1010.5,193.4" fill="none" stroke="#f6dcaa" stroke-width="0.9" opacity="0.55"/><polygon points="979.5,159.6 1010.5,193.4 980.0,227.6 948.5,193.1" fill="none" stroke="#e8b468" stroke-width="0.8"/></g>
<g><polygon points="1048.5,161.4 1079.5,195.2 1049.0,229.4 1017.5,194.9" fill="#e8aa58" opacity="0.95"/><polyline points="1017.5,194.9 1058.0,190.3 1079.5,195.2" fill="none" stroke="#f4cc90" stroke-width="0.8"/><line x1="1048.5" y1="161.4" x2="1058.0" y2="190.3" stroke="#f4cc90" stroke-width="0.8"/><line x1="1049.0" y1="229.4" x2="1058.0" y2="190.3" stroke="#f4cc90" stroke-width="0.8"/><line x1="1048.5" y1="194.9" x2="1058.0" y2="190.3" stroke="#f08030" stroke-width="2.2" opacity="0.8"/><circle cx="1058.0" cy="190.3" r="4.2" fill="#f07a30" opacity="0.7"/><polygon points="1048.5,161.4 1017.5,194.9 1039.0,199.5" fill="#e2a654" opacity="0.55"/><polygon points="1048.5,161.4 1039.0,199.5 1079.5,195.2" fill="#dc8c1a" opacity="0.68"/><polygon points="1049.0,229.4 1017.5,194.9 1039.0,199.5" fill="#dc9e4c" opacity="0.55"/><polygon points="1049.0,229.4 1039.0,199.5 1079.5,195.2" fill="#d48618" opacity="0.68"/><line x1="1048.5" y1="194.9" x2="1013.0" y2="194.6" stroke="#f2701a" stroke-width="2.4" opacity="0.85"/><line x1="1048.5" y1="194.9" x2="1082.5" y2="195.4" stroke="#f2701a" stroke-width="2.4" opacity="0.85"/><line x1="1048.5" y1="194.9" x2="1039.0" y2="199.5" stroke="#f2701a" stroke-width="2.4" opacity="0.85"/><line x1="1048.5" y1="153.4" x2="1049.0" y2="236.9" stroke="#f6a612" stroke-width="3.4" opacity="0.85"/><line x1="1048.5" y1="153.4" x2="1048.5" y2="170.8" stroke="#9ccc28" stroke-width="3.2" opacity="0.85"/><line x1="1049.0" y1="236.9" x2="1048.8" y2="219.3" stroke="#9ccc28" stroke-width="3.2" opacity="0.85"/><circle cx="1048.5" cy="194.9" r="7.5" fill="url(#oball)" opacity="0.9"/><polyline points="1048.5,161.4 1039.0,199.5 1049.0,229.4" fill="none" stroke="#f6dcaa" stroke-width="0.9" opacity="0.55"/><polyline points="1017.5,194.9 1039.0,199.5 1079.5,195.2" fill="none" stroke="#f6dcaa" stroke-width="0.9" opacity="0.55"/><polygon points="1048.5,161.4 1079.5,195.2 1049.0,229.4 1017.5,194.9" fill="none" stroke="#e8b468" stroke-width="0.8"/></g>
<line x1="934.2" y1="120.0" x2="986.4" y2="305.7" stroke="#2a2a2a" stroke-width="1.6" stroke-linecap="round"/>
<line x1="901.6" y1="75.5" x2="968.7" y2="319.0" stroke="#2a2a2a" stroke-width="1.6" stroke-linecap="round"/>
<line x1="1039.4" y1="76.0" x2="1106.9" y2="323.0" stroke="#2a2a2a" stroke-width="1.6" stroke-linecap="round"/>
<line x1="1058.3" y1="67.0" x2="1126.8" y2="313.5" stroke="#2a2a2a" stroke-width="1.6" stroke-linecap="round"/>
<line x1="1042.4" y1="68.4" x2="1052.3" y2="63.8" stroke="#2a2a2a" stroke-width="1.6" stroke-linecap="round"/>
<circle cx="979.5" cy="151.6" r="8.2" fill="url(#gball)"/>
<circle cx="980.0" cy="235.1" r="8.2" fill="url(#gball)"/>
<circle cx="944.0" cy="192.8" r="5.4" fill="url(#rball)"/>
<circle cx="970.0" cy="197.7" r="5.4" fill="url(#rball)"/>
<circle cx="1013.5" cy="193.6" r="5.4" fill="url(#rball)"/>
<circle cx="1048.5" cy="153.4" r="8.2" fill="url(#gball)"/>
<circle cx="1049.0" cy="236.9" r="8.2" fill="url(#gball)"/>
<circle cx="1013.0" cy="194.6" r="5.4" fill="url(#rball)"/>
<circle cx="1039.0" cy="199.5" r="5.4" fill="url(#rball)"/>
<circle cx="1082.5" cy="195.4" r="5.4" fill="url(#rball)"/>
<g><polygon points="1005.9,292.3 1036.9,326.1 1006.4,360.3 974.9,325.8" fill="#e8aa58" opacity="0.95"/><polyline points="974.9,325.8 1015.4,321.2 1036.9,326.1" fill="none" stroke="#f4cc90" stroke-width="0.8"/><line x1="1005.9" y1="292.3" x2="1015.4" y2="321.2" stroke="#f4cc90" stroke-width="0.8"/><line x1="1006.4" y1="360.3" x2="1015.4" y2="321.2" stroke="#f4cc90" stroke-width="0.8"/><line x1="1005.9" y1="325.8" x2="1015.4" y2="321.2" stroke="#f08030" stroke-width="2.2" opacity="0.8"/><circle cx="1015.4" cy="321.2" r="4.2" fill="#f07a30" opacity="0.7"/><polygon points="1005.9,292.3 974.9,325.8 996.4,330.4" fill="#e2a654" opacity="0.55"/><polygon points="1005.9,292.3 996.4,330.4 1036.9,326.1" fill="#dc8c1a" opacity="0.68"/><polygon points="1006.4,360.3 974.9,325.8 996.4,330.4" fill="#dc9e4c" opacity="0.55"/><polygon points="1006.4,360.3 996.4,330.4 1036.9,326.1" fill="#d48618" opacity="0.68"/><line x1="1005.9" y1="325.8" x2="970.4" y2="325.5" stroke="#f2701a" stroke-width="2.4" opacity="0.85"/><line x1="1005.9" y1="325.8" x2="1039.9" y2="326.3" stroke="#f2701a" stroke-width="2.4" opacity="0.85"/><line x1="1005.9" y1="325.8" x2="996.4" y2="330.4" stroke="#f2701a" stroke-width="2.4" opacity="0.85"/><line x1="1005.9" y1="284.3" x2="1006.4" y2="367.8" stroke="#f6a612" stroke-width="3.4" opacity="0.85"/><line x1="1005.9" y1="284.3" x2="1005.9" y2="301.7" stroke="#9ccc28" stroke-width="3.2" opacity="0.85"/><line x1="1006.4" y1="367.8" x2="1006.2" y2="350.2" stroke="#9ccc28" stroke-width="3.2" opacity="0.85"/><circle cx="1005.9" cy="325.8" r="7.5" fill="url(#oball)" opacity="0.9"/><polyline points="1005.9,292.3 996.4,330.4 1006.4,360.3" fill="none" stroke="#f6dcaa" stroke-width="0.9" opacity="0.55"/><polyline points="974.9,325.8 996.4,330.4 1036.9,326.1" fill="none" stroke="#f6dcaa" stroke-width="0.9" opacity="0.55"/><polygon points="1005.9,292.3 1036.9,326.1 1006.4,360.3 974.9,325.8" fill="none" stroke="#e8b468" stroke-width="0.8"/></g>
<g><polygon points="1075.0,294.0 1106.0,327.8 1075.5,362.0 1044.0,327.5" fill="#e8aa58" opacity="0.95"/><polyline points="1044.0,327.5 1084.5,322.9 1106.0,327.8" fill="none" stroke="#f4cc90" stroke-width="0.8"/><line x1="1075.0" y1="294.0" x2="1084.5" y2="322.9" stroke="#f4cc90" stroke-width="0.8"/><line x1="1075.5" y1="362.0" x2="1084.5" y2="322.9" stroke="#f4cc90" stroke-width="0.8"/><line x1="1075.0" y1="327.5" x2="1084.5" y2="322.9" stroke="#f08030" stroke-width="2.2" opacity="0.8"/><circle cx="1084.5" cy="322.9" r="4.2" fill="#f07a30" opacity="0.7"/><polygon points="1075.0,294.0 1044.0,327.5 1065.5,332.1" fill="#e2a654" opacity="0.55"/><polygon points="1075.0,294.0 1065.5,332.1 1106.0,327.8" fill="#dc8c1a" opacity="0.68"/><polygon points="1075.5,362.0 1044.0,327.5 1065.5,332.1" fill="#dc9e4c" opacity="0.55"/><polygon points="1075.5,362.0 1065.5,332.1 1106.0,327.8" fill="#d48618" opacity="0.68"/><line x1="1075.0" y1="327.5" x2="1039.5" y2="327.2" stroke="#f2701a" stroke-width="2.4" opacity="0.85"/><line x1="1075.0" y1="327.5" x2="1109.0" y2="328.0" stroke="#f2701a" stroke-width="2.4" opacity="0.85"/><line x1="1075.0" y1="327.5" x2="1065.5" y2="332.1" stroke="#f2701a" stroke-width="2.4" opacity="0.85"/><line x1="1075.0" y1="286.0" x2="1075.5" y2="369.5" stroke="#f6a612" stroke-width="3.4" opacity="0.85"/><line x1="1075.0" y1="286.0" x2="1075.0" y2="303.4" stroke="#9ccc28" stroke-width="3.2" opacity="0.85"/><line x1="1075.5" y1="369.5" x2="1075.3" y2="351.9" stroke="#9ccc28" stroke-width="3.2" opacity="0.85"/><circle cx="1075.0" cy="327.5" r="7.5" fill="url(#oball)" opacity="0.9"/><polyline points="1075.0,294.0 1065.5,332.1 1075.5,362.0" fill="none" stroke="#f6dcaa" stroke-width="0.9" opacity="0.55"/><polyline points="1044.0,327.5 1065.5,332.1 1106.0,327.8" fill="none" stroke="#f6dcaa" stroke-width="0.9" opacity="0.55"/><polygon points="1075.0,294.0 1106.0,327.8 1075.5,362.0 1044.0,327.5" fill="none" stroke="#e8b468" stroke-width="0.8"/></g>
<line x1="1078.9" y1="220.6" x2="1106.9" y2="323.0" stroke="#2a2a2a" stroke-width="1.6" stroke-linecap="round"/>
<line x1="1113.0" y1="326.8" x2="1123.6" y2="321.8" stroke="#2a2a2a" stroke-width="1.6" stroke-linecap="round"/>
<circle cx="1005.9" cy="284.3" r="8.2" fill="url(#gball)"/>
<circle cx="1006.4" cy="367.8" r="8.2" fill="url(#gball)"/>
<circle cx="970.4" cy="325.5" r="5.4" fill="url(#rball)"/>
<circle cx="996.4" cy="330.4" r="5.4" fill="url(#rball)"/>
<circle cx="1039.9" cy="326.3" r="5.4" fill="url(#rball)"/>
<circle cx="1075.0" cy="286.0" r="8.2" fill="url(#gball)"/>
<circle cx="1075.5" cy="369.5" r="8.2" fill="url(#gball)"/>
<circle cx="1039.5" cy="327.2" r="5.4" fill="url(#rball)"/>
<circle cx="1065.5" cy="332.1" r="5.4" fill="url(#rball)"/>
<circle cx="1109.0" cy="328.0" r="5.4" fill="url(#rball)"/>
<line x1="838.9" y1="341.8" x2="828.9" y2="305.0" stroke="#f02020" stroke-width="4.4"/>
<polygon points="823.8,285.5 820.5,307.2 837.3,302.8" fill="#f01818"/>
<line x1="845.3" y1="348.3" x2="884.3" y2="349.8" stroke="#1818e0" stroke-width="4.8"/>
<polygon points="904.0,350.0 882.5,342.2 882.5,357.7" fill="#1010e0"/>
<circle cx="840.1" cy="348.8" r="7" fill="url(#wball)"/>
<line x1="840.1" y1="348.8" x2="831.3" y2="353.0" stroke="#0a8a0a" stroke-width="4"/>
<circle cx="829.6" cy="354.6" r="7.8" fill="#18a818"/>
<circle cx="828.1" cy="352.6" r="4.5" fill="#22c822" opacity="0.8"/>
<text x="818.95" y="284.68" font-family='"Liberation Sans", sans-serif' font-size="22.18" fill="#000" font-weight="normal" textLength="11.88" lengthAdjust="spacingAndGlyphs" >a</text>
<text x="908.29" y="357.28" font-family='"Liberation Sans", sans-serif' font-size="22.18" fill="#000" font-weight="normal" textLength="11.38" lengthAdjust="spacingAndGlyphs" >c</text>
<text x="811.21" y="375.88" font-family='"Liberation Sans", sans-serif' font-size="22.18" fill="#000" font-weight="normal" textLength="13.60" lengthAdjust="spacingAndGlyphs" >b</text>
<text x="4.04" y="22.49" font-family='"Liberation Sans", sans-serif' font-size="28.61" fill="#000" font-weight="normal" textLength="41.89" lengthAdjust="spacingAndGlyphs" stroke="#000" stroke-width="0.3">(a)</text>
<text x="426.70" y="22.49" font-family='"Liberation Sans", sans-serif' font-size="28.61" fill="#000" font-weight="normal" textLength="42.78" lengthAdjust="spacingAndGlyphs" stroke="#000" stroke-width="0.3">(b)</text>
<text x="794.18" y="22.49" font-family='"Liberation Sans", sans-serif' font-size="28.61" fill="#000" font-weight="normal" textLength="39.17" lengthAdjust="spacingAndGlyphs" stroke="#000" stroke-width="0.3">(c)</text>
<text x="1.63" y="422.33" font-family='"Liberation Sans", sans-serif' font-size="27.49" fill="#000" font-weight="normal" textLength="42.22" lengthAdjust="spacingAndGlyphs" stroke="#000" stroke-width="0.3">(d)</text>
<text x="639.36" y="422.47" font-family='"Liberation Sans", sans-serif' font-size="27.27" fill="#000" font-weight="normal" textLength="43.56" lengthAdjust="spacingAndGlyphs" stroke="#000" stroke-width="0.3">(e)</text>
<text x="2.46" y="718.60" font-family='"Liberation Sans", sans-serif' font-size="28.56" fill="#000" font-weight="normal" textLength="36.84" lengthAdjust="spacingAndGlyphs" stroke="#000" stroke-width="0.3">(f)</text>
<text x="566.37" y="718.60" font-family='"Liberation Sans", sans-serif' font-size="28.56" fill="#000" font-weight="normal" textLength="41.45" lengthAdjust="spacingAndGlyphs" stroke="#000" stroke-width="0.3">(g)</text>
<rect x="167.7" y="413.4" width="241.2" height="43.4" fill="#02559f" stroke="#0d2a55" stroke-width="1.3"/>
<rect x="22.4" y="521.0" width="137.0" height="44.2" fill="#02559f" stroke="#0d2a55" stroke-width="1.3"/>
<rect x="204.0" y="521.0" width="96.0" height="44.2" fill="#02559f" stroke="#0d2a55" stroke-width="1.3"/>
<rect x="312.5" y="522.7" width="102.4" height="43.8" fill="#33832c" stroke="#153a30" stroke-width="1.3"/>
<rect x="426.4" y="522.7" width="105.9" height="43.1" fill="#33832c" stroke="#153a30" stroke-width="1.3"/>
<rect x="96.8" y="629.6" width="137.2" height="44.0" fill="#33832c" stroke="#153a30" stroke-width="1.3"/>
<text x="235.27" y="443.70" font-family='"Liberation Sans", sans-serif' font-size="24.93" fill="#f2f4f6" font-weight="normal" textLength="105.41" lengthAdjust="spacingAndGlyphs" stroke="#f2f4f6" stroke-width="0.35">I4/mmm</text>
<text x="62.02" y="551.10" font-family='"Liberation Sans", sans-serif' font-size="24.35" fill="#f2f4f6" font-weight="normal" textLength="56.80" lengthAdjust="spacingAndGlyphs" stroke="#f2f4f6" stroke-width="0.35">C2/c</text>
<text x="214.40" y="551.10" font-family='"Liberation Sans", sans-serif' font-size="24.35" fill="#f2f4f6" font-weight="normal" textLength="72.35" lengthAdjust="spacingAndGlyphs" stroke="#f2f4f6" stroke-width="0.35">Imm2</text>
<text x="323.26" y="552.80" font-family='"Liberation Sans", sans-serif' font-size="25.22" fill="#f2f8e8" font-weight="normal" textLength="79.22" lengthAdjust="spacingAndGlyphs" stroke="#f2f8e8" stroke-width="0.35">Fmm2</text>
<text x="437.95" y="552.80" font-family='"Liberation Sans", sans-serif' font-size="25.22" fill="#f2f8e8" font-weight="normal" textLength="81.77" lengthAdjust="spacingAndGlyphs" stroke="#f2f8e8" stroke-width="0.35">Immm</text>
<text x="149.40" y="660.40" font-family='"Liberation Sans", sans-serif' font-size="25.51" fill="#f2f8e8" font-weight="normal" textLength="31.70" lengthAdjust="spacingAndGlyphs" stroke="#f2f8e8" stroke-width="0.35">Cc</text>
<line x1="204.9" y1="459.3" x2="115.9" y2="514.3" stroke="#000" stroke-width="2.7"/>
<polygon points="110.4,517.7 114.5,510.0 115.1,514.8 119.1,517.5" fill="#000"/>
<line x1="236.8" y1="459.3" x2="236.8" y2="514.1" stroke="#000" stroke-width="2.7"/>
<polygon points="236.8,520.6 232.4,513.1 236.8,515.1 241.2,513.1" fill="#000"/>
<line x1="339.5" y1="459.3" x2="339.5" y2="512.7" stroke="#000" stroke-width="2.7"/>
<polygon points="339.5,519.2 335.1,511.7 339.5,513.7 343.9,511.7" fill="#000"/>
<line x1="370.3" y1="458.9" x2="467.4" y2="513.5" stroke="#000" stroke-width="2.7"/>
<polygon points="473.1,516.7 464.4,516.9 468.3,514.0 468.7,509.2" fill="#000"/>
<line x1="90.2" y1="565.7" x2="157.0" y2="620.8" stroke="#000" stroke-width="2.7"/>
<polygon points="162.0,624.9 153.4,623.5 157.8,621.4 159.0,616.7" fill="#000"/>
<line x1="241.4" y1="565.7" x2="173.6" y2="620.8" stroke="#000" stroke-width="2.7"/>
<polygon points="168.6,624.9 171.6,616.8 172.9,621.4 177.2,623.6" fill="#000"/>
<text x="52.93" y="485.80" font-family='"Liberation Sans", sans-serif' font-size="30.29" fill="#000" font-weight="bold" textLength="20.81" lengthAdjust="spacingAndGlyphs" >N</text>
<text x="74.42" y="471.51" font-family='"Liberation Sans", sans-serif' font-size="20.20" fill="#000" font-weight="bold" textLength="12.84" lengthAdjust="spacingAndGlyphs" >+</text>
<text x="74.69" y="488.90" font-family='"Liberation Sans", sans-serif' font-size="14.57" fill="#000" font-weight="bold" textLength="9.62" lengthAdjust="spacingAndGlyphs" >2</text>
<text x="34.10" y="509.01" font-family='"Liberation Serif", serif' font-size="20.44" fill="#000" font-weight="bold" textLength="76.12" lengthAdjust="spacingAndGlyphs" >(1,0,0,0)</text>
<text x="254.45" y="485.30" font-family='"Liberation Sans", sans-serif' font-size="29.13" fill="#000" font-weight="bold" textLength="18.03" lengthAdjust="spacingAndGlyphs" >Γ</text>
<text x="272.63" y="488.15" font-family='"Liberation Sans", sans-serif' font-size="14.86" fill="#000" font-weight="bold" textLength="8.79" lengthAdjust="spacingAndGlyphs" >5</text>
<rect x="274.6" y="466.0" width="5.9" height="2.4" fill="#000"/>
<text x="240.41" y="514.39" font-family='"Liberation Serif", serif' font-size="17.25" fill="#000" font-weight="bold" textLength="58.69" lengthAdjust="spacingAndGlyphs" >( 1,0 )</text>
<text x="351.34" y="485.30" font-family='"Liberation Sans", sans-serif' font-size="29.13" fill="#000" font-weight="bold" textLength="17.22" lengthAdjust="spacingAndGlyphs" >Γ</text>
<text x="369.11" y="488.15" font-family='"Liberation Sans", sans-serif' font-size="14.86" fill="#000" font-weight="bold" textLength="9.12" lengthAdjust="spacingAndGlyphs" >5</text>
<rect x="371.1" y="466.0" width="6.0" height="2.4" fill="#000"/>
<text x="343.19" y="514.39" font-family='"Liberation Serif", serif' font-size="17.25" fill="#000" font-weight="bold" textLength="59.52" lengthAdjust="spacingAndGlyphs" >( 1,1 )</text>
<text x="475.46" y="485.80" font-family='"Liberation Sans", sans-serif' font-size="31.01" fill="#000" font-weight="bold" textLength="16.99" lengthAdjust="spacingAndGlyphs" >Γ</text>
<text x="493.73" y="472.93" font-family='"Liberation Sans", sans-serif' font-size="20.39" fill="#000" font-weight="bold" textLength="12.72" lengthAdjust="spacingAndGlyphs" >+</text>
<text x="493.58" y="489.00" font-family='"Liberation Sans", sans-serif' font-size="17.14" fill="#000" font-weight="bold" textLength="9.85" lengthAdjust="spacingAndGlyphs" >2</text>
<text x="477.18" y="512.75" font-family='"Liberation Serif", serif' font-size="19.78" fill="#000" font-weight="bold" textLength="26.45" lengthAdjust="spacingAndGlyphs" >(1)</text>
<rect x="798.9" y="415.0" width="153.5" height="43.3" fill="#02559f" stroke="#0d2a55" stroke-width="1.3"/>
<rect x="694.0" y="520.6" width="116.9" height="43.3" fill="#02559f" stroke="#0d2a55" stroke-width="1.3"/>
<rect x="926.5" y="521.6" width="116.5" height="43.3" fill="#02559f" stroke="#0d2a55" stroke-width="1.3"/>
<rect x="799.4" y="628.5" width="153.2" height="43.0" fill="#33832c" stroke="#153a30" stroke-width="1.3"/>
<text x="812.34" y="445.00" font-family='"Liberation Sans", sans-serif' font-size="24.20" fill="#f2f4f6" font-weight="normal" textLength="127.84" lengthAdjust="spacingAndGlyphs" stroke="#f2f4f6" stroke-width="0.35">P4/mmm</text>
<text x="706.82" y="549.90" font-family='"Liberation Sans", sans-serif' font-size="24.20" fill="#f2f4f6" font-weight="normal" textLength="89.61" lengthAdjust="spacingAndGlyphs" stroke="#f2f4f6" stroke-width="0.35">Pmm2</text>
<text x="939.32" y="550.90" font-family='"Liberation Sans", sans-serif' font-size="24.20" fill="#f2f4f6" font-weight="normal" textLength="89.61" lengthAdjust="spacingAndGlyphs" stroke="#f2f4f6" stroke-width="0.35">Pmm2</text>
<text x="830.75" y="655.70" font-family='"Liberation Sans", sans-serif' font-size="24.78" fill="#f2f8e8" font-weight="normal" textLength="32.88" lengthAdjust="spacingAndGlyphs" stroke="#f2f8e8" stroke-width="0.35">P2</text>
<text x="865.74" y="660.50" font-family='"Liberation Sans", sans-serif' font-size="17.10" fill="#f2f8e8" font-weight="normal" textLength="10.10" lengthAdjust="spacingAndGlyphs" stroke="#f2f8e8" stroke-width="0.3">1</text>
<text x="876.72" y="655.70" font-family='"Liberation Sans", sans-serif' font-size="24.91" fill="#f2f8e8" font-weight="normal" textLength="44.54" lengthAdjust="spacingAndGlyphs" stroke="#f2f8e8" stroke-width="0.35">am</text>
<line x1="867.5" y1="459.3" x2="759.6" y2="516.2" stroke="#000" stroke-width="2.7"/>
<polygon points="753.9,519.2 758.5,511.8 758.8,516.6 762.6,519.6" fill="#000"/>
<line x1="869.2" y1="459.3" x2="978.0" y2="518.5" stroke="#000" stroke-width="2.7"/>
<polygon points="983.7,521.6 975.0,521.9 978.9,519.0 979.2,514.2" fill="#000"/>
<line x1="746.0" y1="564.2" x2="855.6" y2="624.2" stroke="#000" stroke-width="2.7"/>
<polygon points="861.3,627.3 852.6,627.6 856.5,624.7 856.8,619.8" fill="#000"/>
<line x1="995.0" y1="565.2" x2="885.9" y2="624.2" stroke="#000" stroke-width="2.7"/>
<polygon points="880.2,627.3 884.7,619.9 885.0,624.7 888.9,627.6" fill="#000"/>
<text x="715.27" y="490.40" font-family='"Liberation Sans", sans-serif' font-size="29.71" fill="#000" font-weight="bold" textLength="16.88" lengthAdjust="spacingAndGlyphs" >Γ</text>
<text x="733.90" y="492.54" font-family='"Liberation Sans", sans-serif' font-size="16.29" fill="#000" font-weight="bold" textLength="9.23" lengthAdjust="spacingAndGlyphs" >5</text>
<rect x="735.2" y="469.6" width="7.1" height="2.3" fill="#000"/>
<text x="686.70" y="511.53" font-family='"Liberation Serif", serif' font-size="20.77" fill="#000" font-weight="bold" textLength="73.38" lengthAdjust="spacingAndGlyphs" >( 0,-1 )</text>
<text x="987.70" y="489.30" font-family='"Liberation Sans", sans-serif' font-size="30.29" fill="#000" font-weight="bold" textLength="19.96" lengthAdjust="spacingAndGlyphs" >X</text>
<text x="1010.49" y="492.33" font-family='"Liberation Sans", sans-serif' font-size="17.32" fill="#000" font-weight="bold" textLength="9.21" lengthAdjust="spacingAndGlyphs" >3</text>
<rect x="1011.3" y="469.0" width="7.5" height="2.3" fill="#000"/>
<text x="967.11" y="508.91" font-family='"Liberation Serif", serif' font-size="20.88" fill="#000" font-weight="bold" textLength="72.97" lengthAdjust="spacingAndGlyphs" >( 1,-1 )</text>
<path d="M130.0,872.5 C136.4,872.4 154.9,871.5 168.6,871.8 C182.3,872.0 199.4,873.1 212.0,874.0 C224.6,874.9 233.5,876.4 244.0,876.9 C254.5,877.4 265.7,877.0 275.0,876.9 C284.3,876.8 289.2,876.1 300.0,876.0 C310.8,875.9 323.3,876.2 340.0,876.0 C356.7,875.8 381.7,874.9 400.0,874.5 C418.3,874.1 433.3,873.7 450.0,873.5 C466.7,873.3 483.7,873.4 500.0,873.5 C516.3,873.6 540.0,873.9 548.0,874.0" fill="none" stroke="#12ec30" stroke-width="3.2" stroke-linecap="round" stroke-linejoin="round" opacity="1.0"/>
<path d="M183.0,877.6 C193.2,878.1 228.7,880.1 244.0,880.5 C259.3,880.9 259.0,879.9 275.0,879.8 C291.0,879.7 321.6,880.1 340.0,880.0 C358.4,879.9 375.5,879.2 385.5,879.0 C395.5,878.8 387.6,879.0 400.0,879.0 C412.4,879.0 435.3,878.8 460.0,879.0 C484.7,879.2 533.3,879.8 548.0,880.0" fill="none" stroke="#12ec30" stroke-width="3.2" stroke-linecap="round" stroke-linejoin="round" opacity="1.0"/>
<path d="M175.0,876.0 C187.5,876.3 220.8,877.6 250.0,878.0 C279.2,878.4 316.7,878.5 350.0,878.5 C383.3,878.5 417.0,878.1 450.0,878.0 C483.0,877.9 531.7,878.0 548.0,878.0" fill="none" stroke="#12ec30" stroke-width="3.2" stroke-linecap="round" stroke-linejoin="round" opacity="1.0"/>
<path d="M176.0,870.8 C180.0,870.7 188.7,870.5 200.0,870.3 C211.3,870.1 231.5,869.6 244.0,869.6 C256.5,869.6 264.2,870.3 275.0,870.3 C285.8,870.3 298.2,869.1 308.6,869.6 C319.0,870.1 322.4,872.6 337.6,873.2 C352.8,873.8 376.3,873.2 400.0,873.0 C423.7,872.8 455.3,872.3 480.0,872.0 C504.7,871.7 536.7,871.2 548.0,871.0" fill="none" stroke="url(#g1)" stroke-width="3.0" stroke-linecap="round" stroke-linejoin="round" opacity="1.0"/>
<path d="M130.0,885.6 C133.5,884.5 144.6,880.3 151.0,879.0 C157.4,877.7 162.9,877.9 168.6,877.6 C174.3,877.3 182.3,877.1 185.0,877.0" fill="none" stroke="#9a9a9a" stroke-width="3.2" stroke-linecap="round" stroke-linejoin="round" opacity="1.0"/>
<path d="M130.0,885.0 C133.3,884.3 143.6,881.9 150.0,881.0 C156.4,880.1 161.9,879.8 168.6,879.5 C175.3,879.2 186.4,879.1 190.0,879.0" fill="none" stroke="#9a9a9a" stroke-width="3.2" stroke-linecap="round" stroke-linejoin="round" opacity="1.0"/>
<path d="M385.5,877.6 C388.4,878.1 398.1,879.5 403.0,880.5 C407.9,881.5 410.2,882.4 415.0,883.4 C419.8,884.4 429.1,886.0 431.9,886.5" fill="none" stroke="#9a9a9a" stroke-width="3.0" stroke-linecap="round" stroke-linejoin="round" opacity="1.0"/>
<path d="M405.0,879.0 C409.5,880.1 425.8,885.0 431.9,885.6 C437.9,886.2 437.3,883.8 441.3,882.7 C445.3,881.6 450.6,879.9 455.8,879.0 C461.0,878.1 466.4,877.8 472.5,877.6 C478.6,877.4 479.5,877.7 492.1,877.6 C504.7,877.5 538.7,877.1 548.0,877.0" fill="none" stroke="url(#g2)" stroke-width="3.0" stroke-linecap="round" stroke-linejoin="round" opacity="1.0"/>
<path d="M130.0,833.0 C137.5,833.1 160.3,833.2 175.0,833.5 C189.7,833.8 206.5,834.5 218.0,835.0 C229.5,835.5 234.5,836.1 244.0,836.2 C253.5,836.3 259.4,835.5 275.0,835.4 C290.6,835.3 319.9,835.5 337.6,835.4 C355.3,835.3 368.3,834.9 381.2,834.7 C394.1,834.5 403.5,834.1 415.0,834.0 C426.5,833.9 435.8,834.1 450.0,834.2 C464.2,834.3 483.7,834.4 500.0,834.5 C516.3,834.6 540.0,834.7 548.0,834.7" fill="none" stroke="#f01212" stroke-width="3.0" stroke-linecap="round" stroke-linejoin="round" opacity="1.0"/>
<path d="M130.0,844.4 C136.2,844.5 158.5,844.7 167.4,845.2 C176.3,845.7 177.9,847.0 183.2,847.6 C188.5,848.2 193.2,848.7 199.0,849.1 C204.8,849.5 210.5,849.9 218.0,849.9 C225.5,849.9 234.5,849.4 244.0,849.2 C253.5,849.0 264.2,848.7 275.0,848.5 C285.8,848.3 296.5,848.2 308.6,847.8 C320.7,847.4 335.7,846.8 347.8,846.3 C359.9,845.8 371.7,845.3 381.2,844.9 C390.7,844.5 396.5,844.4 405.0,844.1 C413.5,843.9 424.9,843.9 432.2,843.4 C439.5,842.9 441.8,841.8 448.6,841.2 C455.4,840.6 465.9,839.9 473.2,839.8 C480.4,839.7 484.1,839.8 492.1,840.5 C500.1,841.2 511.9,843.0 521.2,844.1 C530.5,845.2 543.5,846.5 548.0,847.0" fill="none" stroke="url(#g3)" stroke-width="3.0" stroke-linecap="round" stroke-linejoin="round" opacity="1.0"/>
<path d="M130.0,885.8 C132.8,884.4 142.2,880.2 146.5,877.6 C150.8,875.0 152.8,872.1 155.6,870.0 C158.4,867.9 161.1,866.8 163.5,864.9 C165.9,863.0 167.8,860.2 169.8,858.6 C171.8,857.0 173.7,856.1 175.3,855.5 C176.9,854.9 172.2,854.8 179.3,854.7 C186.4,854.6 207.2,854.8 218.0,854.7 C228.8,854.6 234.5,854.4 244.0,854.3 C253.5,854.2 259.4,854.0 275.0,854.3 C290.6,854.5 318.7,855.8 337.6,855.8 C356.5,855.8 378.7,854.8 388.4,854.3 C398.1,853.8 391.3,853.3 395.7,852.9 C400.1,852.5 406.2,852.1 415.0,852.1 C423.8,852.1 437.8,852.9 448.6,852.9 C459.4,852.9 472.8,852.2 480.0,852.0 C487.2,851.8 488.8,851.2 492.1,851.4 C495.4,851.6 497.0,852.5 500.0,853.0 C503.0,853.5 502.0,854.0 510.0,854.5 C518.0,855.0 541.7,855.6 548.0,855.8" fill="none" stroke="url(#g4)" stroke-width="3.0" stroke-linecap="round" stroke-linejoin="round" opacity="1.0"/>
<path d="M130.0,816.8 C132.3,817.1 138.9,817.7 143.8,818.4 C148.7,819.1 154.2,819.9 159.5,820.8 C164.8,821.7 170.0,822.7 175.3,823.9 C180.6,825.1 186.5,826.7 191.1,827.9 C195.7,829.1 199.6,830.0 202.9,831.0 C206.2,832.0 206.3,833.4 210.8,834.2 C215.3,835.0 221.0,835.7 230.0,836.0 C239.0,836.3 254.3,836.9 265.0,836.2 C275.7,835.5 284.3,833.8 294.0,831.8 C303.7,829.8 313.3,826.0 323.0,824.5 C332.7,823.0 342.4,823.8 352.1,823.1 C361.8,822.4 372.4,820.9 381.2,820.2 C390.0,819.5 397.4,819.3 405.0,818.7 C412.6,818.1 419.5,817.1 426.8,816.6 C434.1,816.1 441.4,816.0 448.6,815.8 C455.9,815.5 463.1,815.0 470.3,815.1 C477.6,815.2 484.8,815.5 492.1,816.6 C499.4,817.7 507.6,820.5 513.9,821.6 C520.2,822.8 524.3,823.1 530.0,823.5 C535.7,823.9 545.0,823.8 548.0,823.8" fill="none" stroke="#e8104a" stroke-width="3.0" stroke-linecap="round" stroke-linejoin="round" opacity="1.0"/>
<path d="M130.0,838.9 C131.6,838.6 136.2,838.6 139.8,837.3 C143.4,836.0 147.8,833.4 151.7,831.0 C155.6,828.6 159.6,825.2 163.5,823.1 C167.4,821.0 170.7,819.7 175.3,818.4 C179.9,817.1 185.8,816.1 191.1,815.2 C196.4,814.3 202.4,813.5 206.9,812.9 C211.4,812.2 211.8,811.5 218.0,811.3 C224.2,811.1 234.5,811.5 244.0,811.5 C253.5,811.5 265.4,811.6 275.0,811.5 C284.6,811.4 292.1,811.2 301.3,810.8 C310.5,810.4 322.8,809.5 330.3,809.3 C337.8,809.0 341.5,808.9 346.3,809.3 C351.1,809.7 354.8,809.9 359.4,811.5 C364.0,813.1 369.1,816.5 373.9,818.7 C378.7,820.9 383.2,822.7 388.4,824.5 C393.6,826.3 399.7,828.1 405.0,829.5 C410.3,830.9 414.2,832.2 420.0,833.0 C425.8,833.8 431.2,833.8 440.0,834.0 C448.8,834.2 467.5,834.4 473.0,834.5" fill="none" stroke="url(#g5)" stroke-width="3.0" stroke-linecap="round" stroke-linejoin="round" opacity="1.0"/>
<path d="M130.0,836.5 C132.3,836.1 140.2,835.5 143.8,834.2 C147.4,832.9 148.4,831.4 151.7,828.6 C155.0,825.8 159.6,821.1 163.5,817.6 C167.4,814.1 171.4,810.3 175.3,807.4 C179.2,804.5 183.2,801.9 187.1,800.3 C191.0,798.7 193.8,798.2 199.0,797.9 C204.2,797.6 210.5,798.1 218.0,798.7 C225.5,799.3 236.2,801.0 244.0,801.3 C251.8,801.6 256.4,801.0 264.7,800.6 C273.0,800.2 286.0,798.5 294.0,799.1 C302.0,799.7 306.8,802.4 312.9,804.2 C318.9,806.0 324.7,808.5 330.3,810.0 C335.9,811.5 342.2,812.9 346.3,812.9 C350.4,812.9 351.1,810.7 355.0,810.0 C358.9,809.3 364.7,808.1 369.5,808.6 C374.3,809.1 379.6,810.7 384.0,812.9 C388.4,815.1 392.2,819.2 395.7,821.6 C399.2,824.0 401.0,825.1 405.0,827.5 C409.0,829.9 415.0,834.2 419.5,836.2 C424.0,838.2 428.8,839.6 432.2,839.8 C435.6,840.0 437.6,838.9 439.8,837.6 C442.1,836.3 444.2,833.9 445.7,831.8 C447.1,829.7 447.6,827.3 448.5,825.0 C449.4,822.7 450.1,820.2 451.0,818.0 C451.9,815.8 452.9,814.1 454.1,811.5 C455.3,808.9 456.5,805.4 458.1,802.1 C459.7,798.8 461.6,794.4 463.6,791.8 C465.6,789.2 468.3,787.3 469.9,786.3 C471.4,785.2 470.4,785.4 472.9,785.5 C475.4,785.6 480.5,785.4 484.9,786.8 C489.3,788.2 494.6,791.3 499.4,794.0 C504.2,796.7 509.1,799.9 513.9,802.8 C518.7,805.7 524.8,809.6 528.4,811.5 C532.0,813.4 533.3,813.8 535.7,814.4 C538.1,815.0 541.0,815.4 543.0,815.1 C545.0,814.9 547.2,813.3 548.0,812.9" fill="none" stroke="url(#g6)" stroke-width="3.0" stroke-linecap="round" stroke-linejoin="round" opacity="1.0"/>
<path d="M130.0,821.5 C131.6,821.5 136.9,822.0 139.8,821.5 C142.8,821.0 145.3,819.7 147.7,818.4 C150.1,817.1 152.0,815.5 154.0,813.7 C156.0,811.9 157.7,810.6 159.5,807.4 C161.3,804.2 162.4,800.1 165.0,794.7 C167.6,789.3 171.2,781.8 175.0,775.0 C178.8,768.2 183.8,759.7 188.0,754.0 C192.2,748.3 196.6,743.9 200.0,741.0 C203.4,738.1 204.3,738.7 208.5,736.7 C212.7,734.7 219.1,730.8 225.0,729.0 C230.9,727.2 237.3,726.3 244.0,725.8 C250.7,725.3 257.8,725.3 265.0,725.8 C272.2,726.3 279.7,727.0 287.0,728.7 C294.3,730.4 301.4,734.3 308.6,736.0 C315.8,737.7 323.8,738.3 330.3,738.9 C336.8,739.5 343.0,739.1 347.8,739.6 C352.6,740.1 355.5,740.2 359.4,741.8 C363.3,743.4 367.4,745.6 371.0,749.0 C374.6,752.4 377.8,757.2 381.2,762.1 C384.6,767.0 387.9,771.8 391.3,778.1 C394.7,784.4 398.3,793.3 401.3,799.7 C404.3,806.1 406.8,812.8 409.2,816.3 C411.6,819.8 412.6,820.1 415.5,821.0 C418.4,821.9 423.7,821.6 426.5,821.8 C429.3,822.0 430.3,821.8 432.2,822.2 C434.1,822.6 435.9,823.1 437.6,824.2 C439.3,825.3 441.0,827.7 442.3,828.9 C443.6,830.1 444.6,831.6 445.5,831.3 C446.4,831.0 447.0,829.0 447.8,827.0 C448.6,825.0 449.1,822.0 450.2,819.4 C451.2,816.8 452.8,814.4 454.1,811.5 C455.4,808.6 456.5,805.4 458.1,802.1 C459.7,798.8 461.6,794.4 463.6,791.8 C465.6,789.2 468.3,787.3 469.9,786.3 C471.4,785.2 470.4,785.7 472.9,785.5 C475.4,785.3 480.5,786.3 484.9,785.3 C489.3,784.3 494.6,782.1 499.4,779.5 C504.2,776.9 509.1,773.3 513.9,769.4 C518.7,765.5 524.0,760.2 528.4,756.3 C532.8,752.4 536.7,748.6 540.0,746.1 C543.3,743.6 546.7,741.9 548.0,741.0" fill="none" stroke="#f01212" stroke-width="3.0" stroke-linecap="round" stroke-linejoin="round" opacity="1.0"/>
<path d="M130.0,852.3 C133.3,852.3 143.8,852.3 150.0,852.3 C156.2,852.3 163.7,852.4 167.4,852.3 C171.1,852.2 170.6,852.4 172.2,851.5 C173.8,850.6 175.1,848.5 176.9,846.8 C178.7,845.1 180.8,843.1 183.2,841.3 C185.6,839.4 187.8,837.6 191.1,835.7 C194.4,833.9 198.4,832.2 202.9,830.2 C207.4,828.2 212.7,825.7 218.0,823.9 C223.3,822.1 229.7,820.4 235.0,819.5 C240.3,818.6 245.0,818.8 250.0,818.7 C255.0,818.6 260.1,818.7 265.0,818.7 C269.9,818.7 272.2,818.2 279.5,818.7 C286.8,819.2 300.1,820.1 308.6,821.6 C317.1,823.1 324.0,825.5 330.3,827.5 C336.6,829.5 340.2,831.4 346.3,833.3 C352.4,835.2 360.8,837.2 366.6,839.1 C372.4,841.0 376.8,842.5 381.2,844.9 C385.6,847.3 389.7,850.7 392.8,853.6 C395.9,856.5 398.0,859.9 400.0,862.3 C402.0,864.7 402.5,866.2 405.0,868.0 C407.5,869.8 410.5,870.2 415.0,873.2 C419.5,876.2 427.5,883.4 431.9,886.3 C436.3,889.2 438.3,889.7 441.3,890.7 C444.3,891.7 447.3,892.4 450.0,892.1 C452.7,891.9 455.6,890.4 457.3,889.2 C459.0,888.0 458.0,886.2 460.2,884.8 C462.4,883.3 466.2,881.6 470.3,880.5 C474.4,879.4 480.0,878.5 484.9,878.3 C489.8,878.0 493.5,878.7 499.4,879.0 C505.2,879.3 511.9,879.8 520.0,880.0 C528.1,880.2 543.3,880.4 548.0,880.5" fill="none" stroke="url(#g7)" stroke-width="3.0" stroke-linecap="round" stroke-linejoin="round" opacity="1.0"/>
<path d="M130.0,886.2 C133.3,885.2 144.7,882.4 150.0,880.5 C155.3,878.6 158.8,876.8 162.0,875.0 C165.2,873.2 166.8,871.7 169.0,870.0 C171.2,868.3 172.9,866.9 175.3,864.9 C177.7,862.9 181.2,859.0 183.2,857.8 C185.2,856.5 185.1,856.9 187.1,857.4 C189.1,857.9 192.0,859.3 195.0,861.0 C198.0,862.7 202.1,865.4 204.9,867.4 C207.8,869.4 209.9,870.8 212.1,873.2 C214.3,875.6 216.8,879.3 218.0,882.0 C219.2,884.7 218.5,886.6 219.4,889.2 C220.3,891.9 221.3,895.2 223.7,897.9 C226.1,900.6 230.5,903.6 233.9,905.2 C237.3,906.8 238.9,907.2 244.0,907.4 C249.1,907.6 259.0,907.5 264.4,906.6 C269.8,905.8 273.1,904.2 276.6,902.3 C280.1,900.4 283.4,897.7 285.3,895.0 C287.2,892.3 287.5,889.0 288.2,886.3 C288.9,883.6 288.7,881.4 289.7,879.0 C290.7,876.6 291.8,874.7 294.0,871.8 C296.2,868.9 299.7,864.5 302.8,861.6 C305.9,858.7 309.5,857.0 312.9,854.4 C316.3,851.8 318.9,849.1 323.0,846.3 C327.1,843.5 333.5,839.5 337.6,837.6 C341.7,835.7 343.0,834.7 347.8,834.7 C352.6,834.7 361.0,836.5 366.6,837.6 C372.2,838.7 376.5,841.1 381.2,841.2 C385.9,841.3 391.4,839.9 395.0,838.4 C398.6,836.9 400.3,833.9 402.9,832.0 C405.5,830.1 408.2,828.7 410.8,827.3 C413.4,825.9 416.1,824.6 418.7,823.8 C421.3,823.0 424.2,822.7 426.5,822.6 C428.8,822.5 430.3,822.4 432.2,823.0 C434.1,823.6 436.3,824.8 438.0,826.0 C439.7,827.2 441.2,828.7 442.5,830.0 C443.8,831.3 444.5,832.6 445.5,834.0 C446.5,835.4 447.4,836.3 448.6,838.5 C449.8,840.7 451.0,843.4 452.6,847.0 C454.2,850.6 456.4,856.6 458.1,860.0 C459.9,863.4 461.3,865.3 463.1,867.4 C464.9,869.5 466.5,871.5 468.9,872.5 C471.3,873.5 474.5,873.3 477.6,873.2 C480.8,873.1 484.9,873.0 487.8,871.8 C490.7,870.6 491.9,868.1 495.0,866.0 C498.1,863.9 502.2,862.4 506.6,859.4 C511.0,856.4 516.4,851.7 521.2,847.8 C526.1,843.9 531.2,838.8 535.7,836.2 C540.2,833.7 546.0,833.1 548.0,832.5" fill="none" stroke="url(#g8)" stroke-width="3.0" stroke-linecap="round" stroke-linejoin="round" opacity="1.0"/>
<path d="M130.0,822.3 C132.3,822.7 140.2,823.8 143.8,824.7 C147.4,825.6 149.1,826.7 151.7,827.9 C154.3,829.1 156.9,830.2 159.5,831.8 C162.1,833.4 165.0,835.3 167.4,837.3 C169.8,839.3 171.7,841.8 173.7,843.6 C175.7,845.5 177.5,847.3 179.3,848.4 C181.2,849.5 183.4,850.0 184.8,850.0 C186.2,850.0 186.2,849.7 187.9,848.4 C189.6,847.1 192.5,844.1 195.0,842.0 C197.5,839.9 199.1,838.5 202.9,835.7 C206.7,833.0 214.1,828.1 218.0,825.5 C221.9,822.9 222.3,821.3 226.6,820.2 C230.9,819.1 237.7,819.0 244.0,818.7 C250.3,818.5 259.9,818.5 264.7,818.7 C269.5,818.9 270.5,819.5 273.0,820.0 C275.5,820.5 276.0,819.4 279.5,821.6 C283.0,823.8 289.1,828.0 294.0,833.3 C298.9,838.6 305.2,848.8 308.6,853.6 C312.0,858.4 312.5,859.4 314.4,862.0 C316.3,864.6 318.8,866.2 320.2,869.0 C321.6,871.8 322.4,875.4 323.1,879.0 C323.8,882.6 323.8,886.8 324.5,890.7 C325.2,894.6 325.9,898.7 327.4,902.3 C328.8,905.9 330.8,910.0 333.2,912.4 C335.6,914.8 339.7,915.9 342.0,916.8 C344.3,917.6 344.4,917.4 347.0,917.5 C349.6,917.6 354.1,917.1 357.9,917.5 C361.6,917.9 365.6,918.9 369.5,919.7 C373.4,920.6 377.6,921.2 381.2,922.6 C384.8,924.0 388.2,926.0 391.3,928.4 C394.4,930.8 397.3,934.0 400.0,937.1 C402.7,940.2 404.8,944.5 407.3,947.3 C409.8,950.1 412.6,952.1 415.0,954.0 C417.4,955.9 419.2,957.3 422.0,958.5 C424.8,959.7 428.7,961.9 431.9,961.3 C435.1,960.7 438.5,958.5 441.3,955.0 C444.1,951.5 446.4,945.6 448.6,940.5 C450.8,935.4 452.7,927.8 454.4,924.5 C456.1,921.2 457.2,921.2 458.7,920.8 C460.1,920.4 461.7,921.4 463.1,922.2 C464.6,923.0 465.8,924.8 467.4,925.7 C469.0,926.6 470.4,927.4 472.5,927.5 C474.6,927.6 477.9,927.8 480.0,926.5 C482.1,925.2 483.5,922.6 485.0,920.0 C486.5,917.4 488.0,915.4 489.2,911.0 C490.4,906.6 491.5,898.9 492.1,893.6 C492.7,888.3 492.3,883.4 492.8,879.0 C493.3,874.6 493.9,871.1 495.0,867.4 C496.1,863.6 497.5,860.5 499.4,856.5 C501.3,852.5 503.9,847.8 506.6,843.4 C509.3,839.0 512.5,834.3 515.4,830.4 C518.3,826.5 520.6,823.1 524.0,820.2 C527.4,817.3 531.7,814.7 535.7,812.9 C539.7,811.1 546.0,809.9 548.0,809.3" fill="none" stroke="url(#g9)" stroke-width="3.0" stroke-linecap="round" stroke-linejoin="round" opacity="1.0"/>
<path d="M350.0,878.0 C355.8,878.1 378.1,878.1 385.0,878.5 C391.9,878.9 389.5,878.0 391.3,880.5 C393.1,883.0 393.8,887.8 395.7,893.6 C397.6,899.4 400.6,908.0 403.0,915.3 C405.4,922.5 408.2,931.6 410.2,937.1 C412.2,942.6 413.0,944.9 415.0,948.0 C417.0,951.1 419.6,953.8 422.4,956.0 C425.2,958.2 428.8,961.4 431.9,961.1 C435.0,960.9 438.5,958.0 441.3,954.5 C444.1,951.0 446.4,945.1 448.6,940.0 C450.8,934.9 452.7,927.3 454.4,924.0 C456.1,920.7 457.2,920.8 458.7,920.4 C460.1,920.0 461.7,921.0 463.1,921.9 C464.6,922.8 465.8,924.6 467.4,925.5 C469.0,926.4 470.1,926.8 472.5,927.0 C474.9,927.2 477.5,927.2 482.0,927.0 C486.5,926.8 492.9,926.5 499.4,925.5 C505.9,924.5 515.2,922.2 521.2,921.1 C527.2,920.0 531.2,919.4 535.7,919.0 C540.2,918.6 546.0,919.0 548.0,919.0" fill="none" stroke="url(#g10)" stroke-width="3.0" stroke-linecap="round" stroke-linejoin="round" opacity="1.0"/>
<path d="M130.0,961.0 C131.6,960.2 136.2,958.8 139.5,956.0 C142.8,953.2 146.5,949.5 149.7,944.4 C152.8,939.3 155.7,931.6 158.4,925.5 C161.1,919.4 163.8,913.3 165.7,908.0 C167.6,902.7 169.0,897.7 170.0,893.6 C171.0,889.5 170.9,886.0 171.5,883.4 C172.1,880.8 172.5,879.4 173.6,878.3 C174.7,877.1 175.9,876.9 178.0,876.5 C180.1,876.1 184.7,876.1 186.0,876.0" fill="none" stroke="url(#g11)" stroke-width="3.2" stroke-linecap="round" stroke-linejoin="round" opacity="1.0"/>
<path d="M130.0,961.8 C132.3,960.6 139.4,958.6 143.9,954.5 C148.4,950.4 152.9,943.5 157.0,937.0 C161.1,930.5 165.2,922.0 168.6,915.3 C172.0,908.5 175.5,901.6 177.3,896.5 C179.1,891.4 178.8,887.7 179.5,884.8 C180.2,881.9 180.5,880.3 181.6,879.0 C182.7,877.7 183.8,877.6 186.0,877.2 C188.2,876.8 193.5,876.9 195.0,876.8" fill="none" stroke="url(#g12)" stroke-width="3.2" stroke-linecap="round" stroke-linejoin="round" opacity="1.0"/>
<line x1="244.4" y1="723.1" x2="244.4" y2="995.9" stroke="#2a2a2a" stroke-width="1.4" stroke-dasharray="2.2,2.2"/>
<line x1="264.7" y1="723.1" x2="264.7" y2="995.9" stroke="#2a2a2a" stroke-width="1.4" stroke-dasharray="2.2,2.2"/>
<line x1="347.0" y1="723.1" x2="347.0" y2="995.9" stroke="#2a2a2a" stroke-width="1.4" stroke-dasharray="2.2,2.2"/>
<line x1="432.2" y1="723.1" x2="432.2" y2="995.9" stroke="#2a2a2a" stroke-width="1.4" stroke-dasharray="2.2,2.2"/>
<line x1="472.9" y1="723.1" x2="472.9" y2="995.9" stroke="#2a2a2a" stroke-width="1.4" stroke-dasharray="2.2,2.2"/>
<line x1="130.1" y1="886.9" x2="548.2" y2="886.9" stroke="#d83838" stroke-width="1.2" stroke-dasharray="3.4,2.2"/>
<rect x="130.5" y="723.5" width="77.1" height="69.5" fill="#fff" stroke="#000" stroke-width="1.6"/>
<g style="isolation:isolate"><polygon points="169.0,745.4 150.6,772.4 187.4,772.4" fill="url(#tri13r)"/><polygon points="169.0,745.4 150.6,772.4 187.4,772.4" fill="url(#tri13b)" style="mix-blend-mode:screen"/><polygon points="169.0,745.4 150.6,772.4 187.4,772.4" fill="url(#tri13g)" style="mix-blend-mode:screen"/></g>
<text x="169.0" y="740.6" font-family='"Liberation Sans", sans-serif' font-size="18.5" fill="#000" font-weight="normal" text-anchor="middle" textLength="16.6" lengthAdjust="spacingAndGlyphs" >O</text>
<text x="132.3" y="789.0" font-family='"Liberation Sans", sans-serif' font-size="18.5" fill="#000" font-weight="normal" text-anchor="start" textLength="28.9" lengthAdjust="spacingAndGlyphs" >Mo</text>
<text x="180.5" y="789.0" font-family='"Liberation Sans", sans-serif' font-size="18.5" fill="#000" font-weight="normal" text-anchor="start" textLength="21.9" lengthAdjust="spacingAndGlyphs" >Br</text>
<rect x="128.1" y="721.1" width="422.1" height="276.8" fill="none" stroke="#000" stroke-width="4.2"/>
<line x1="128.1" y1="776.5" x2="133.1" y2="776.5" stroke="#000" stroke-width="1.3"/>
<line x1="545.2" y1="776.5" x2="550.2" y2="776.5" stroke="#000" stroke-width="1.3"/>
<line x1="128.1" y1="831.6" x2="133.1" y2="831.6" stroke="#000" stroke-width="1.3"/>
<line x1="545.2" y1="831.6" x2="550.2" y2="831.6" stroke="#000" stroke-width="1.3"/>
<line x1="128.1" y1="886.9" x2="133.1" y2="886.9" stroke="#000" stroke-width="1.3"/>
<line x1="545.2" y1="886.9" x2="550.2" y2="886.9" stroke="#000" stroke-width="1.3"/>
<line x1="128.1" y1="942.3" x2="133.1" y2="942.3" stroke="#000" stroke-width="1.3"/>
<line x1="545.2" y1="942.3" x2="550.2" y2="942.3" stroke="#000" stroke-width="1.3"/>
<line x1="244.4" y1="997.9" x2="244.4" y2="992.9" stroke="#000" stroke-width="1.3"/>
<line x1="244.4" y1="721.1" x2="244.4" y2="726.1" stroke="#000" stroke-width="1.3"/>
<line x1="264.7" y1="997.9" x2="264.7" y2="992.9" stroke="#000" stroke-width="1.3"/>
<line x1="264.7" y1="721.1" x2="264.7" y2="726.1" stroke="#000" stroke-width="1.3"/>
<line x1="347.0" y1="997.9" x2="347.0" y2="992.9" stroke="#000" stroke-width="1.3"/>
<line x1="347.0" y1="721.1" x2="347.0" y2="726.1" stroke="#000" stroke-width="1.3"/>
<line x1="432.2" y1="997.9" x2="432.2" y2="992.9" stroke="#000" stroke-width="1.3"/>
<line x1="432.2" y1="721.1" x2="432.2" y2="726.1" stroke="#000" stroke-width="1.3"/>
<line x1="472.9" y1="997.9" x2="472.9" y2="992.9" stroke="#000" stroke-width="1.3"/>
<line x1="472.9" y1="721.1" x2="472.9" y2="726.1" stroke="#000" stroke-width="1.3"/>
<text x="73.92" y="786.92" font-family='"Liberation Sans", sans-serif' font-size="28.45" fill="#000" font-weight="normal" textLength="39.50" lengthAdjust="spacingAndGlyphs" stroke="#000" stroke-width="0.45">20</text>
<text x="74.25" y="842.12" font-family='"Liberation Sans", sans-serif' font-size="28.45" fill="#000" font-weight="normal" textLength="37.82" lengthAdjust="spacingAndGlyphs" stroke="#000" stroke-width="0.45">10</text>
<text x="93.61" y="898.22" font-family='"Liberation Sans", sans-serif' font-size="28.45" fill="#000" font-weight="normal" textLength="19.35" lengthAdjust="spacingAndGlyphs" stroke="#000" stroke-width="0.45">0</text>
<text x="62.22" y="953.02" font-family='"Liberation Sans", sans-serif' font-size="28.45" fill="#000" font-weight="normal" textLength="50.72" lengthAdjust="spacingAndGlyphs" stroke="#000" stroke-width="0.45">-10</text>
<text x="62.22" y="1007.92" font-family='"Liberation Sans", sans-serif' font-size="28.45" fill="#000" font-weight="normal" textLength="50.72" lengthAdjust="spacingAndGlyphs" stroke="#000" stroke-width="0.45">-20</text>
<text x="119.25" y="1027.40" font-family='"Liberation Sans", sans-serif' font-size="28.70" fill="#000" font-weight="normal" textLength="17.58" lengthAdjust="spacingAndGlyphs" stroke="#000" stroke-width="0.45">Γ</text>
<text x="233.85" y="1027.40" font-family='"Liberation Sans", sans-serif' font-size="28.70" fill="#000" font-weight="normal" textLength="40.29" lengthAdjust="spacingAndGlyphs" stroke="#000" stroke-width="0.45">XP</text>
<text x="335.30" y="1027.40" font-family='"Liberation Sans", sans-serif' font-size="28.70" fill="#000" font-weight="normal" textLength="24.37" lengthAdjust="spacingAndGlyphs" stroke="#000" stroke-width="0.45">N</text>
<text x="423.06" y="1027.40" font-family='"Liberation Sans", sans-serif' font-size="28.70" fill="#000" font-weight="normal" textLength="18.19" lengthAdjust="spacingAndGlyphs" stroke="#000" stroke-width="0.45">Γ</text>
<text x="459.41" y="1027.40" font-family='"Liberation Sans", sans-serif' font-size="28.70" fill="#000" font-weight="normal" textLength="27.98" lengthAdjust="spacingAndGlyphs" stroke="#000" stroke-width="0.45">M</text>
<text x="540.09" y="1027.40" font-family='"Liberation Sans", sans-serif' font-size="28.70" fill="#000" font-weight="normal" textLength="19.49" lengthAdjust="spacingAndGlyphs" stroke="#000" stroke-width="0.45">S</text>
<text x="0" y="0" transform="translate(46.94,980.11) rotate(-90)" font-family='"Liberation Sans", sans-serif' font-size="28.88" textLength="244.62" lengthAdjust="spacingAndGlyphs" stroke="#000" stroke-width="0.45">Frequency (THz)</text>
<path d="M698.6,760.0 C705.5,759.8 724.8,759.2 740.0,759.0 C755.2,758.8 778.5,758.9 790.0,758.9 C801.5,758.9 801.8,759.5 809.3,759.2 C816.8,758.9 825.4,757.5 835.0,757.0 C844.6,756.5 852.4,756.4 866.9,756.3 C881.4,756.2 906.9,756.5 922.1,756.3 C937.4,756.0 947.9,754.9 958.4,754.8 C968.9,754.7 978.6,755.0 985.0,755.6 C991.4,756.2 992.3,757.6 996.8,758.1 C1001.2,758.6 1006.9,758.9 1011.7,758.6 C1016.6,758.3 1019.9,758.0 1025.9,756.4 C1031.9,754.8 1040.4,751.8 1047.7,749.1 C1055.0,746.4 1062.3,742.8 1069.6,740.4 C1076.9,738.0 1083.5,735.7 1091.4,734.5 C1099.4,733.3 1113.0,733.3 1117.3,733.1" fill="none" stroke="#e8104a" stroke-width="3.0" stroke-linecap="round" stroke-linejoin="round" opacity="1.0"/>
<path d="M698.6,761.0 C713.8,760.9 762.0,760.9 790.0,760.5 C818.0,760.1 844.9,759.1 866.9,758.8 C888.9,758.5 906.9,759.1 922.1,758.8 C937.3,758.5 947.5,757.2 958.0,757.0 C968.5,756.8 976.0,757.1 985.0,757.5 C994.0,757.9 1007.2,759.2 1011.7,759.5" fill="none" stroke="#e8104a" stroke-width="3.0" stroke-linecap="round" stroke-linejoin="round" opacity="1.0"/>
<path d="M698.6,772.0 C707.2,772.3 734.8,773.5 750.0,774.0 C765.2,774.5 780.1,774.8 790.0,775.2 C799.9,775.6 805.3,777.1 809.3,776.6 C813.3,776.1 811.8,774.0 814.0,772.3 C816.2,770.6 819.6,768.0 822.8,766.5 C826.0,765.0 829.3,764.2 833.0,763.6 C836.7,763.0 839.4,762.7 845.0,762.8 C850.6,762.9 854.0,763.9 866.9,764.3 C879.8,764.7 908.0,765.4 922.1,765.0 C936.2,764.6 942.4,762.6 951.2,762.1 C960.0,761.6 968.6,761.8 975.0,762.2 C981.4,762.6 984.6,763.0 989.5,764.4 C994.4,765.8 1000.4,769.0 1004.1,770.9 C1007.8,772.8 1006.9,774.8 1011.7,776.0 C1016.6,777.2 1026.0,776.9 1033.2,778.2 C1040.4,779.5 1047.7,782.1 1055.0,784.0 C1062.3,785.9 1069.5,788.5 1076.8,789.8 C1084.1,791.1 1092.0,791.6 1098.7,792.0 C1105.5,792.4 1114.2,792.0 1117.3,792.0" fill="none" stroke="#e8104a" stroke-width="3.0" stroke-linecap="round" stroke-linejoin="round" opacity="1.0"/>
<path d="M698.6,831.1 C699.9,830.5 703.6,829.6 706.6,827.5 C709.6,825.4 713.4,822.3 716.8,818.7 C720.2,815.1 724.0,809.8 727.0,805.7 C730.0,801.6 731.9,798.0 734.9,794.0 C737.9,790.0 740.8,784.8 745.0,782.0 C749.2,779.2 752.5,778.1 760.0,777.0 C767.5,775.9 781.8,775.3 790.0,775.2 C798.2,775.1 804.6,775.4 809.3,776.6 C814.0,777.8 815.7,779.7 818.4,782.4 C821.1,785.1 823.0,789.0 825.7,792.6 C828.4,796.2 831.4,800.3 834.4,804.2 C837.4,808.1 840.7,812.2 843.7,815.8 C846.7,819.4 849.4,823.5 852.4,826.0 C855.4,828.5 858.2,829.9 862.0,830.8 C865.8,831.7 866.7,831.4 875.0,831.6 C883.3,831.8 903.7,831.9 912.0,831.8 C920.3,831.7 920.9,831.7 925.0,831.0 C929.1,830.3 932.2,830.0 936.6,827.5 C941.0,825.0 946.4,819.7 951.2,815.8 C956.1,811.9 961.7,807.0 965.7,804.2 C969.7,801.4 971.0,801.2 975.0,799.0 C979.0,796.8 984.6,794.0 989.5,791.0 C994.4,788.0 1000.4,783.6 1004.1,781.1 C1007.8,778.6 1010.4,776.9 1011.7,776.0" fill="none" stroke="#e8104a" stroke-width="3.0" stroke-linecap="round" stroke-linejoin="round" opacity="1.0"/>
<path d="M698.6,916.0 C715.5,916.1 766.4,916.6 800.0,916.5 C833.6,916.4 866.7,915.6 900.0,915.5 C933.3,915.4 963.8,915.9 1000.0,916.0 C1036.2,916.1 1097.8,916.0 1117.3,916.0" fill="none" stroke="#10ea34" stroke-width="3.4" stroke-linecap="round" stroke-linejoin="round" opacity="1.0"/>
<path d="M698.6,919.0 C715.5,919.1 766.4,919.5 800.0,919.5 C833.6,919.5 866.7,919.2 900.0,919.0 C933.3,918.8 963.8,918.5 1000.0,918.5 C1036.2,918.5 1097.8,918.9 1117.3,919.0" fill="none" stroke="#10ea34" stroke-width="3.4" stroke-linecap="round" stroke-linejoin="round" opacity="1.0"/>
<path d="M698.6,922.0 C715.5,921.9 766.4,921.5 800.0,921.5 C833.6,921.5 866.7,922.1 900.0,922.0 C933.3,921.9 963.8,921.2 1000.0,921.0 C1036.2,920.8 1097.8,921.0 1117.3,921.0" fill="none" stroke="#18d870" stroke-width="3.4" stroke-linecap="round" stroke-linejoin="round" opacity="1.0"/>
<path d="M698.6,914.0 C715.5,913.9 766.4,913.7 800.0,913.5 C833.6,913.3 866.7,913.2 900.0,913.0 C933.3,912.8 963.8,912.4 1000.0,912.0 C1036.2,911.6 1097.8,910.8 1117.3,910.5" fill="none" stroke="#18b8a0" stroke-width="3.0" stroke-linecap="round" stroke-linejoin="round" opacity="1.0"/>
<path d="M698.6,924.5 C715.5,924.4 769.8,924.0 800.0,924.0 C830.2,924.0 853.3,924.6 880.0,924.5 C906.7,924.4 920.5,923.7 960.0,923.5 C999.5,923.3 1091.1,923.5 1117.3,923.5" fill="none" stroke="#20c090" stroke-width="3.0" stroke-linecap="round" stroke-linejoin="round" opacity="1.0"/>
<path d="M698.6,931.5 C701.6,930.5 707.7,927.0 716.8,925.7 C725.9,924.4 737.7,924.0 753.1,923.5 C768.5,923.0 793.2,922.9 809.3,923.0 C825.4,923.1 838.0,923.0 849.5,924.2 C861.0,925.4 866.6,928.7 878.6,930.0 C890.6,931.3 912.1,932.7 921.8,932.2 C931.5,931.7 931.7,928.7 936.6,927.1 C941.5,925.5 943.1,923.6 951.2,922.8 C959.3,921.9 957.3,922.1 985.0,922.0 C1012.7,921.9 1095.2,922.0 1117.3,922.0" fill="none" stroke="url(#g14)" stroke-width="3.6" stroke-linecap="round" stroke-linejoin="round" opacity="1.0"/>
<path d="M698.6,930.0 C703.8,929.3 716.4,927.0 730.0,926.0 C743.6,925.0 760.1,924.0 780.0,924.0 C799.9,924.0 829.5,924.8 849.5,926.0 C869.5,927.2 888.0,929.9 900.0,931.0 C912.0,932.1 915.1,932.8 921.8,932.5 C928.5,932.2 933.6,930.2 940.0,929.0 C946.4,927.8 950.0,926.0 960.0,925.0 C970.0,924.0 993.3,923.3 1000.0,923.0" fill="none" stroke="#a0a0a0" stroke-width="3.0" stroke-linecap="round" stroke-linejoin="round" opacity="1.0"/>
<path d="M698.6,912.6 C701.6,912.6 712.6,913.8 716.8,912.6 C721.0,911.4 720.4,906.6 724.0,905.3 C727.6,904.0 733.8,904.2 738.6,904.6 C743.5,905.0 741.3,907.0 753.1,907.5 C764.9,908.0 797.2,907.9 809.3,907.5 C821.4,907.1 821.0,905.4 825.7,905.3 C830.4,905.2 834.1,905.6 837.3,906.8 C840.5,908.0 843.7,911.6 845.0,912.6" fill="none" stroke="#b458c0" stroke-width="3.0" stroke-linecap="round" stroke-linejoin="round" opacity="1.0"/>
<path d="M835.0,911.9 C845.8,911.8 875.0,911.6 900.0,911.5 C925.0,911.4 970.8,911.2 985.0,911.1" fill="none" stroke="#a89090" stroke-width="3.0" stroke-linecap="round" stroke-linejoin="round" opacity="1.0"/>
<path d="M945.0,912.0 C946.0,911.2 947.5,908.2 951.0,907.0 C954.5,905.8 960.0,905.4 965.7,905.0 C971.4,904.6 977.3,904.2 985.0,904.6 C992.7,905.0 999.2,907.2 1011.7,907.4 C1024.2,907.6 1042.4,906.4 1060.0,906.0 C1077.6,905.6 1107.8,905.2 1117.3,905.0" fill="none" stroke="url(#g15)" stroke-width="3.0" stroke-linecap="round" stroke-linejoin="round" opacity="1.0"/>
<path d="M698.6,898.1 C701.6,898.3 711.3,899.8 716.8,899.5 C722.2,899.2 726.5,898.3 731.3,896.6 C736.1,894.9 742.2,891.0 745.8,889.4 C749.4,887.8 751.9,887.6 753.1,887.2" fill="none" stroke="#a050d8" stroke-width="3.0" stroke-linecap="round" stroke-linejoin="round" opacity="1.0"/>
<path d="M809.3,886.5 C812.0,887.7 821.0,891.8 825.7,893.7 C830.4,895.6 830.5,897.2 837.3,898.1 C844.0,899.0 852.1,898.8 866.2,898.8 C880.3,898.8 906.4,898.0 921.8,898.1 C937.2,898.2 947.9,900.0 958.4,899.5 C968.9,899.0 976.1,896.6 985.0,895.2 C993.9,893.8 1002.5,892.4 1011.7,891.0 C1020.9,889.6 1028.6,888.2 1040.0,887.0 C1051.4,885.8 1067.1,884.3 1080.0,883.5 C1092.9,882.7 1111.1,882.2 1117.3,882.0" fill="none" stroke="url(#g16)" stroke-width="3.0" stroke-linecap="round" stroke-linejoin="round" opacity="1.0"/>
<path d="M698.6,887.9 C707.7,888.3 734.7,889.6 753.1,890.1 C771.5,890.6 794.0,890.6 809.3,890.8 C824.6,891.0 815.7,891.5 845.0,891.5 C874.3,891.5 957.2,890.9 985.0,890.8 C1012.8,890.7 999.2,890.7 1011.7,891.1 C1024.2,891.5 1042.4,892.5 1060.0,893.0 C1077.6,893.5 1107.8,894.0 1117.3,894.2" fill="none" stroke="url(#g17)" stroke-width="3.0" stroke-linecap="round" stroke-linejoin="round" opacity="1.0"/>
<path d="M835.0,877.8 C837.4,879.0 844.7,883.1 849.5,885.0 C854.3,886.9 858.9,888.5 864.0,889.4 C869.1,890.3 877.3,890.3 880.0,890.5" fill="none" stroke="url(#g18)" stroke-width="3.0" stroke-linecap="round" stroke-linejoin="round" opacity="1.0"/>
<path d="M905.0,890.8 C909.1,890.8 922.9,891.8 929.4,890.8 C935.9,889.8 937.8,886.9 943.9,885.0 C950.0,883.1 958.9,880.4 965.7,879.2 C972.6,878.0 981.8,878.2 985.0,878.0" fill="none" stroke="url(#g19)" stroke-width="3.0" stroke-linecap="round" stroke-linejoin="round" opacity="1.0"/>
<path d="M698.6,892.3 C701.6,890.8 710.1,886.8 716.8,883.6 C723.5,880.5 732.5,875.5 738.6,873.4 C744.7,871.3 750.7,871.6 753.1,871.2" fill="none" stroke="url(#g20)" stroke-width="3.0" stroke-linecap="round" stroke-linejoin="round" opacity="1.0"/>
<path d="M698.6,881.4 C707.7,882.2 734.7,885.6 753.1,886.5 C771.5,887.4 795.6,887.4 809.3,886.5 C822.9,885.6 816.2,881.9 835.0,881.0 C853.8,880.1 897.0,880.8 922.0,881.0 C947.0,881.2 970.0,881.2 985.0,882.0 C1000.0,882.8 999.2,885.2 1011.7,885.7 C1024.2,886.2 1042.4,885.6 1060.0,885.0 C1077.6,884.4 1107.8,882.5 1117.3,882.0" fill="none" stroke="url(#g21)" stroke-width="3.0" stroke-linecap="round" stroke-linejoin="round" opacity="1.0"/>
<path d="M698.6,879.2 C707.7,879.3 734.7,880.0 753.1,879.9 C771.5,879.8 794.0,878.5 809.3,878.5 C824.6,878.5 835.5,879.8 845.0,879.9 C854.5,880.0 853.2,879.2 866.0,879.0 C878.8,878.8 902.2,878.5 922.0,878.5 C941.8,878.5 970.0,879.4 985.0,879.2 C1000.0,879.0 999.2,877.2 1011.7,877.2 C1024.2,877.2 1042.4,878.2 1060.0,879.0 C1077.6,879.8 1107.8,881.3 1117.3,881.8" fill="none" stroke="url(#g22)" stroke-width="3.0" stroke-linecap="round" stroke-linejoin="round" opacity="1.0"/>
<path d="M698.6,863.2 C705.3,862.7 729.5,861.1 738.6,860.3 C747.7,859.5 741.3,858.8 753.1,858.5 C764.9,858.2 795.6,857.7 809.3,858.5 C822.9,859.3 825.5,862.6 835.0,863.5 C844.5,864.4 851.5,863.8 866.0,864.0 C880.5,864.2 902.2,864.4 922.0,864.5 C941.8,864.6 970.0,864.2 985.0,864.5 C1000.0,864.8 999.2,865.1 1011.7,866.0 C1024.2,866.9 1042.4,868.9 1060.0,870.0 C1077.6,871.1 1107.8,872.1 1117.3,872.5" fill="none" stroke="#e8104a" stroke-width="3.0" stroke-linecap="round" stroke-linejoin="round" opacity="1.0"/>
<path d="M698.6,866.1 C707.7,867.0 734.7,870.4 753.1,871.2 C771.5,872.1 794.0,871.3 809.3,871.2 C824.6,871.1 826.2,870.7 845.0,870.5 C863.8,870.3 898.7,870.3 922.0,870.0 C945.3,869.7 970.0,868.3 985.0,868.5 C1000.0,868.7 999.2,870.4 1011.7,871.0 C1024.2,871.6 1042.4,871.8 1060.0,872.0 C1077.6,872.2 1107.8,872.4 1117.3,872.5" fill="none" stroke="#e8104a" stroke-width="3.0" stroke-linecap="round" stroke-linejoin="round" opacity="1.0"/>
<path d="M698.6,871.2 C703.8,870.7 720.9,868.9 730.0,868.0 C739.1,867.1 739.9,866.3 753.1,866.0 C766.3,865.7 794.0,865.9 809.3,866.0 C824.6,866.1 826.2,866.3 845.0,866.5 C863.8,866.7 898.7,866.8 922.0,867.0 C945.3,867.2 970.0,867.3 985.0,867.5 C1000.0,867.7 999.2,867.6 1011.7,868.0 C1024.2,868.4 1042.4,869.5 1060.0,870.0 C1077.6,870.5 1107.8,870.8 1117.3,871.0" fill="none" stroke="#f01828" stroke-width="3.0" stroke-linecap="round" stroke-linejoin="round" opacity="1.0"/>
<path d="M698.6,850.9 C702.8,851.4 714.9,852.5 724.0,853.8 C733.1,855.1 738.9,858.0 753.1,858.9 C767.3,859.8 795.6,860.5 809.3,858.9 C822.9,857.3 825.4,850.9 835.0,849.2 C844.6,847.5 857.2,848.5 866.9,848.5 C876.6,848.5 883.8,848.8 893.0,849.2 C902.2,849.6 906.8,850.2 922.1,850.7 C937.4,851.2 970.1,850.9 985.0,852.1 C999.9,853.3 999.2,856.6 1011.7,857.8 C1024.2,858.9 1042.4,858.5 1060.0,859.0 C1077.6,859.5 1107.8,860.6 1117.3,860.9" fill="none" stroke="#e8104a" stroke-width="3.0" stroke-linecap="round" stroke-linejoin="round" opacity="1.0"/>
<path d="M698.6,845.8 C702.8,846.5 714.9,848.2 724.0,850.2 C733.1,852.2 743.8,856.8 753.1,858.1 C762.4,859.4 770.6,858.3 780.0,858.0 C789.4,857.7 801.7,857.7 809.3,856.5 C816.9,855.3 819.8,852.4 825.7,850.7 C831.7,849.0 838.2,847.2 845.0,846.3 C851.8,845.4 853.4,845.6 866.2,845.5 C879.0,845.4 907.6,845.1 921.8,845.5 C936.0,845.9 940.7,846.7 951.2,848.0 C961.7,849.3 974.9,851.4 985.0,853.1 C995.1,854.8 1002.5,857.6 1011.7,858.2 C1020.9,858.9 1028.6,857.4 1040.0,857.0 C1051.4,856.6 1067.1,856.3 1080.0,856.0 C1092.9,855.7 1111.1,855.4 1117.3,855.3" fill="none" stroke="url(#g23)" stroke-width="3.0" stroke-linecap="round" stroke-linejoin="round" opacity="1.0"/>
<path d="M1011.7,872.0 C1019.8,872.3 1042.4,873.4 1060.0,874.0 C1077.6,874.6 1107.8,875.3 1117.3,875.6" fill="none" stroke="url(#g24)" stroke-width="3.0" stroke-linecap="round" stroke-linejoin="round" opacity="1.0"/>
<path d="M698.6,953.3 C699.9,952.6 704.1,951.1 706.6,948.9 C709.1,946.7 712.2,943.4 713.9,940.2 C715.6,937.1 716.1,932.7 716.8,930.0 C717.5,927.3 717.3,926.0 718.2,924.2 C719.1,922.4 721.4,919.9 722.0,919.0" fill="none" stroke="url(#g25)" stroke-width="3.0" stroke-linecap="round" stroke-linejoin="round" opacity="1.0"/>
<path d="M835.0,905.3 C836.5,907.0 841.3,911.9 843.7,915.5 C846.1,919.1 848.3,923.2 849.5,927.1 C850.7,931.0 850.0,935.3 851.0,938.7 C852.0,942.1 852.8,945.3 855.3,947.5 C857.8,949.7 859.9,950.9 866.2,951.8 C872.5,952.7 883.7,952.7 893.0,953.0 C902.3,953.3 915.2,953.7 921.8,953.5 C928.3,953.3 928.8,953.3 932.3,951.8 C935.8,950.3 939.8,947.2 942.5,944.5 C945.2,941.8 946.8,938.7 948.3,935.8 C949.8,932.9 949.8,930.2 951.2,927.1 C952.7,924.0 954.6,920.4 957.0,917.0 C959.4,913.6 961.0,908.9 965.7,906.8 C970.4,904.7 981.8,905.0 985.0,904.6" fill="none" stroke="url(#g26)" stroke-width="3.0" stroke-linecap="round" stroke-linejoin="round" opacity="1.0"/>
<line x1="753.8" y1="723.6" x2="753.8" y2="996.2" stroke="#2a2a2a" stroke-width="1.4" stroke-dasharray="2.2,2.2"/>
<line x1="809.3" y1="723.6" x2="809.3" y2="996.2" stroke="#2a2a2a" stroke-width="1.4" stroke-dasharray="2.2,2.2"/>
<line x1="866.9" y1="723.6" x2="866.9" y2="996.2" stroke="#2a2a2a" stroke-width="1.4" stroke-dasharray="2.2,2.2"/>
<line x1="922.1" y1="723.6" x2="922.1" y2="996.2" stroke="#2a2a2a" stroke-width="1.4" stroke-dasharray="2.2,2.2"/>
<line x1="1011.7" y1="723.6" x2="1011.7" y2="996.2" stroke="#2a2a2a" stroke-width="1.4" stroke-dasharray="2.2,2.2"/>
<line x1="698.5" y1="931.9" x2="1117.4" y2="931.9" stroke="#d83838" stroke-width="1.2" stroke-dasharray="3.4,2.2"/>
<rect x="698.5" y="723.5" width="91.2" height="69.5" fill="#fff" stroke="#000" stroke-width="1.6"/>
<g style="isolation:isolate"><polygon points="737.4,745.4 719.0,772.4 755.8,772.4" fill="url(#tri27r)"/><polygon points="737.4,745.4 719.0,772.4 755.8,772.4" fill="url(#tri27b)" style="mix-blend-mode:screen"/><polygon points="737.4,745.4 719.0,772.4 755.8,772.4" fill="url(#tri27g)" style="mix-blend-mode:screen"/></g>
<text x="737.4" y="740.6" font-family='"Liberation Sans", sans-serif' font-size="18.5" fill="#000" font-weight="normal" text-anchor="middle" textLength="16.6" lengthAdjust="spacingAndGlyphs" >O</text>
<text x="700.3" y="789.0" font-family='"Liberation Sans", sans-serif' font-size="18.5" fill="#000" font-weight="normal" text-anchor="start" textLength="28.9" lengthAdjust="spacingAndGlyphs" >Mo</text>
<text x="748.9" y="789.0" font-family='"Liberation Sans", sans-serif' font-size="18.5" fill="#000" font-weight="normal" text-anchor="start" textLength="21.9" lengthAdjust="spacingAndGlyphs" >Br</text>
<rect x="696.5" y="721.6" width="422.9" height="276.6" fill="none" stroke="#000" stroke-width="4.2"/>
<line x1="696.5" y1="734.0" x2="701.5" y2="734.0" stroke="#000" stroke-width="1.3"/>
<line x1="1114.4" y1="734.0" x2="1119.4" y2="734.0" stroke="#000" stroke-width="1.3"/>
<line x1="696.5" y1="799.9" x2="701.5" y2="799.9" stroke="#000" stroke-width="1.3"/>
<line x1="1114.4" y1="799.9" x2="1119.4" y2="799.9" stroke="#000" stroke-width="1.3"/>
<line x1="696.5" y1="866.0" x2="701.5" y2="866.0" stroke="#000" stroke-width="1.3"/>
<line x1="1114.4" y1="866.0" x2="1119.4" y2="866.0" stroke="#000" stroke-width="1.3"/>
<line x1="696.5" y1="931.9" x2="701.5" y2="931.9" stroke="#000" stroke-width="1.3"/>
<line x1="1114.4" y1="931.9" x2="1119.4" y2="931.9" stroke="#000" stroke-width="1.3"/>
<line x1="753.8" y1="998.2" x2="753.8" y2="993.2" stroke="#000" stroke-width="1.3"/>
<line x1="753.8" y1="721.6" x2="753.8" y2="726.6" stroke="#000" stroke-width="1.3"/>
<line x1="809.3" y1="998.2" x2="809.3" y2="993.2" stroke="#000" stroke-width="1.3"/>
<line x1="809.3" y1="721.6" x2="809.3" y2="726.6" stroke="#000" stroke-width="1.3"/>
<line x1="866.9" y1="998.2" x2="866.9" y2="993.2" stroke="#000" stroke-width="1.3"/>
<line x1="866.9" y1="721.6" x2="866.9" y2="726.6" stroke="#000" stroke-width="1.3"/>
<line x1="922.1" y1="998.2" x2="922.1" y2="993.2" stroke="#000" stroke-width="1.3"/>
<line x1="922.1" y1="721.6" x2="922.1" y2="726.6" stroke="#000" stroke-width="1.3"/>
<line x1="1011.7" y1="998.2" x2="1011.7" y2="993.2" stroke="#000" stroke-width="1.3"/>
<line x1="1011.7" y1="721.6" x2="1011.7" y2="726.6" stroke="#000" stroke-width="1.3"/>
<text x="641.79" y="744.82" font-family='"Liberation Sans", sans-serif' font-size="28.45" fill="#000" font-weight="normal" textLength="39.12" lengthAdjust="spacingAndGlyphs" stroke="#000" stroke-width="0.45">30</text>
<text x="641.42" y="810.32" font-family='"Liberation Sans", sans-serif' font-size="28.45" fill="#000" font-weight="normal" textLength="39.50" lengthAdjust="spacingAndGlyphs" stroke="#000" stroke-width="0.45">20</text>
<text x="642.19" y="876.12" font-family='"Liberation Sans", sans-serif' font-size="28.45" fill="#000" font-weight="normal" textLength="38.71" lengthAdjust="spacingAndGlyphs" stroke="#000" stroke-width="0.45">10</text>
<text x="662.08" y="942.62" font-family='"Liberation Sans", sans-serif' font-size="28.45" fill="#000" font-weight="normal" textLength="18.31" lengthAdjust="spacingAndGlyphs" stroke="#000" stroke-width="0.45">0</text>
<text x="630.44" y="1008.12" font-family='"Liberation Sans", sans-serif' font-size="28.45" fill="#000" font-weight="normal" textLength="49.98" lengthAdjust="spacingAndGlyphs" stroke="#000" stroke-width="0.45">-10</text>
<text x="687.47" y="1027.40" font-family='"Liberation Sans", sans-serif' font-size="28.70" fill="#000" font-weight="normal" textLength="17.45" lengthAdjust="spacingAndGlyphs" stroke="#000" stroke-width="0.45">Γ</text>
<text x="743.60" y="1027.40" font-family='"Liberation Sans", sans-serif' font-size="28.70" fill="#000" font-weight="normal" textLength="20.36" lengthAdjust="spacingAndGlyphs" stroke="#000" stroke-width="0.45">A</text>
<text x="796.07" y="1027.40" font-family='"Liberation Sans", sans-serif' font-size="28.70" fill="#000" font-weight="normal" textLength="26.36" lengthAdjust="spacingAndGlyphs" stroke="#000" stroke-width="0.45">M</text>
<text x="855.58" y="1027.40" font-family='"Liberation Sans", sans-serif' font-size="28.70" fill="#000" font-weight="normal" textLength="21.84" lengthAdjust="spacingAndGlyphs" stroke="#000" stroke-width="0.45">Y</text>
<text x="913.84" y="1027.40" font-family='"Liberation Sans", sans-serif' font-size="28.70" fill="#000" font-weight="normal" textLength="18.32" lengthAdjust="spacingAndGlyphs" stroke="#000" stroke-width="0.45">Γ</text>
<text x="998.43" y="1027.40" font-family='"Liberation Sans", sans-serif' font-size="28.70" fill="#000" font-weight="normal" textLength="26.73" lengthAdjust="spacingAndGlyphs" stroke="#000" stroke-width="0.45">M</text>
<text x="1110.64" y="1027.40" font-family='"Liberation Sans", sans-serif' font-size="28.70" fill="#000" font-weight="normal" textLength="18.50" lengthAdjust="spacingAndGlyphs" stroke="#000" stroke-width="0.45">L</text>
<text x="0" y="0" transform="translate(616.32,980.41) rotate(-90)" font-family='"Liberation Sans", sans-serif' font-size="29.41" textLength="244.93" lengthAdjust="spacingAndGlyphs" stroke="#000" stroke-width="0.45">Frequency (THz)</text>
<text x="294.43" y="950.50" font-family='"Liberation Sans", sans-serif' font-size="32.46" fill="#000" font-weight="bold" textLength="24.11" lengthAdjust="spacingAndGlyphs" >N</text>
<text x="318.30" y="934.26" font-family='"Liberation Sans", sans-serif' font-size="19.59" fill="#000" font-weight="normal" textLength="12.88" lengthAdjust="spacingAndGlyphs" stroke="#000" stroke-width="0.5">+</text>
<text x="318.87" y="957.10" font-family='"Liberation Sans", sans-serif' font-size="19.43" fill="#000" font-weight="normal" textLength="12.59" lengthAdjust="spacingAndGlyphs" stroke="#000" stroke-width="0.5">2</text>
<text x="387.64" y="985.40" font-family='"Liberation Sans", sans-serif' font-size="32.03" fill="#000" font-weight="bold" textLength="18.15" lengthAdjust="spacingAndGlyphs" >Γ</text>
<rect x="408.3" y="964.6" width="5.6" height="2.2" fill="#000"/>
<text x="405.07" y="990.71" font-family='"Liberation Sans", sans-serif' font-size="18.86" fill="#000" font-weight="normal" textLength="11.47" lengthAdjust="spacingAndGlyphs" stroke="#000" stroke-width="0.5">5</text>
<text x="482.25" y="960.50" font-family='"Liberation Sans", sans-serif' font-size="32.46" fill="#000" font-weight="bold" textLength="27.61" lengthAdjust="spacingAndGlyphs" >M</text>
<rect x="512.2" y="936.4" width="5.9" height="2.1" fill="#000"/>
<text x="510.43" y="966.41" font-family='"Liberation Sans", sans-serif' font-size="19.14" fill="#000" font-weight="normal" textLength="12.06" lengthAdjust="spacingAndGlyphs" stroke="#000" stroke-width="0.5">5</text>
<ellipse cx="347.0" cy="917.5" rx="10.2" ry="9.6" fill="none" stroke="#000" stroke-width="2.0"/>
<ellipse cx="432.0" cy="961.5" rx="10.8" ry="9.7" fill="none" stroke="#000" stroke-width="2.0"/>
<ellipse cx="472.5" cy="927.7" rx="10.2" ry="9.6" fill="none" stroke="#000" stroke-width="2.0"/>
<text x="821.38" y="980.20" font-family='"Liberation Sans", sans-serif' font-size="31.59" fill="#000" font-weight="bold" textLength="20.75" lengthAdjust="spacingAndGlyphs" >Y</text>
<rect x="843.7" y="958.2" width="5.7" height="2.0" fill="#000"/>
<text x="837.48" y="986.50" font-family='"Liberation Sans", sans-serif' font-size="22.14" fill="#000" font-weight="normal" textLength="14.67" lengthAdjust="spacingAndGlyphs" stroke="#000" stroke-width="0.5">2</text>
<text x="940.06" y="983.00" font-family='"Liberation Sans", sans-serif' font-size="30.58" fill="#000" font-weight="bold" textLength="16.99" lengthAdjust="spacingAndGlyphs" >Γ</text>
<rect x="962.2" y="961.2" width="6.4" height="2.1" fill="#000"/>
<text x="958.16" y="988.60" font-family='"Liberation Sans", sans-serif' font-size="21.14" fill="#000" font-weight="normal" textLength="13.81" lengthAdjust="spacingAndGlyphs" stroke="#000" stroke-width="0.5">2</text>
<ellipse cx="866.6" cy="952.0" rx="9.8" ry="9.0" fill="none" stroke="#000" stroke-width="2.0"/>
<ellipse cx="921.9" cy="953.5" rx="10.0" ry="9.2" fill="none" stroke="#000" stroke-width="2.0"/>
</svg></body></html>
